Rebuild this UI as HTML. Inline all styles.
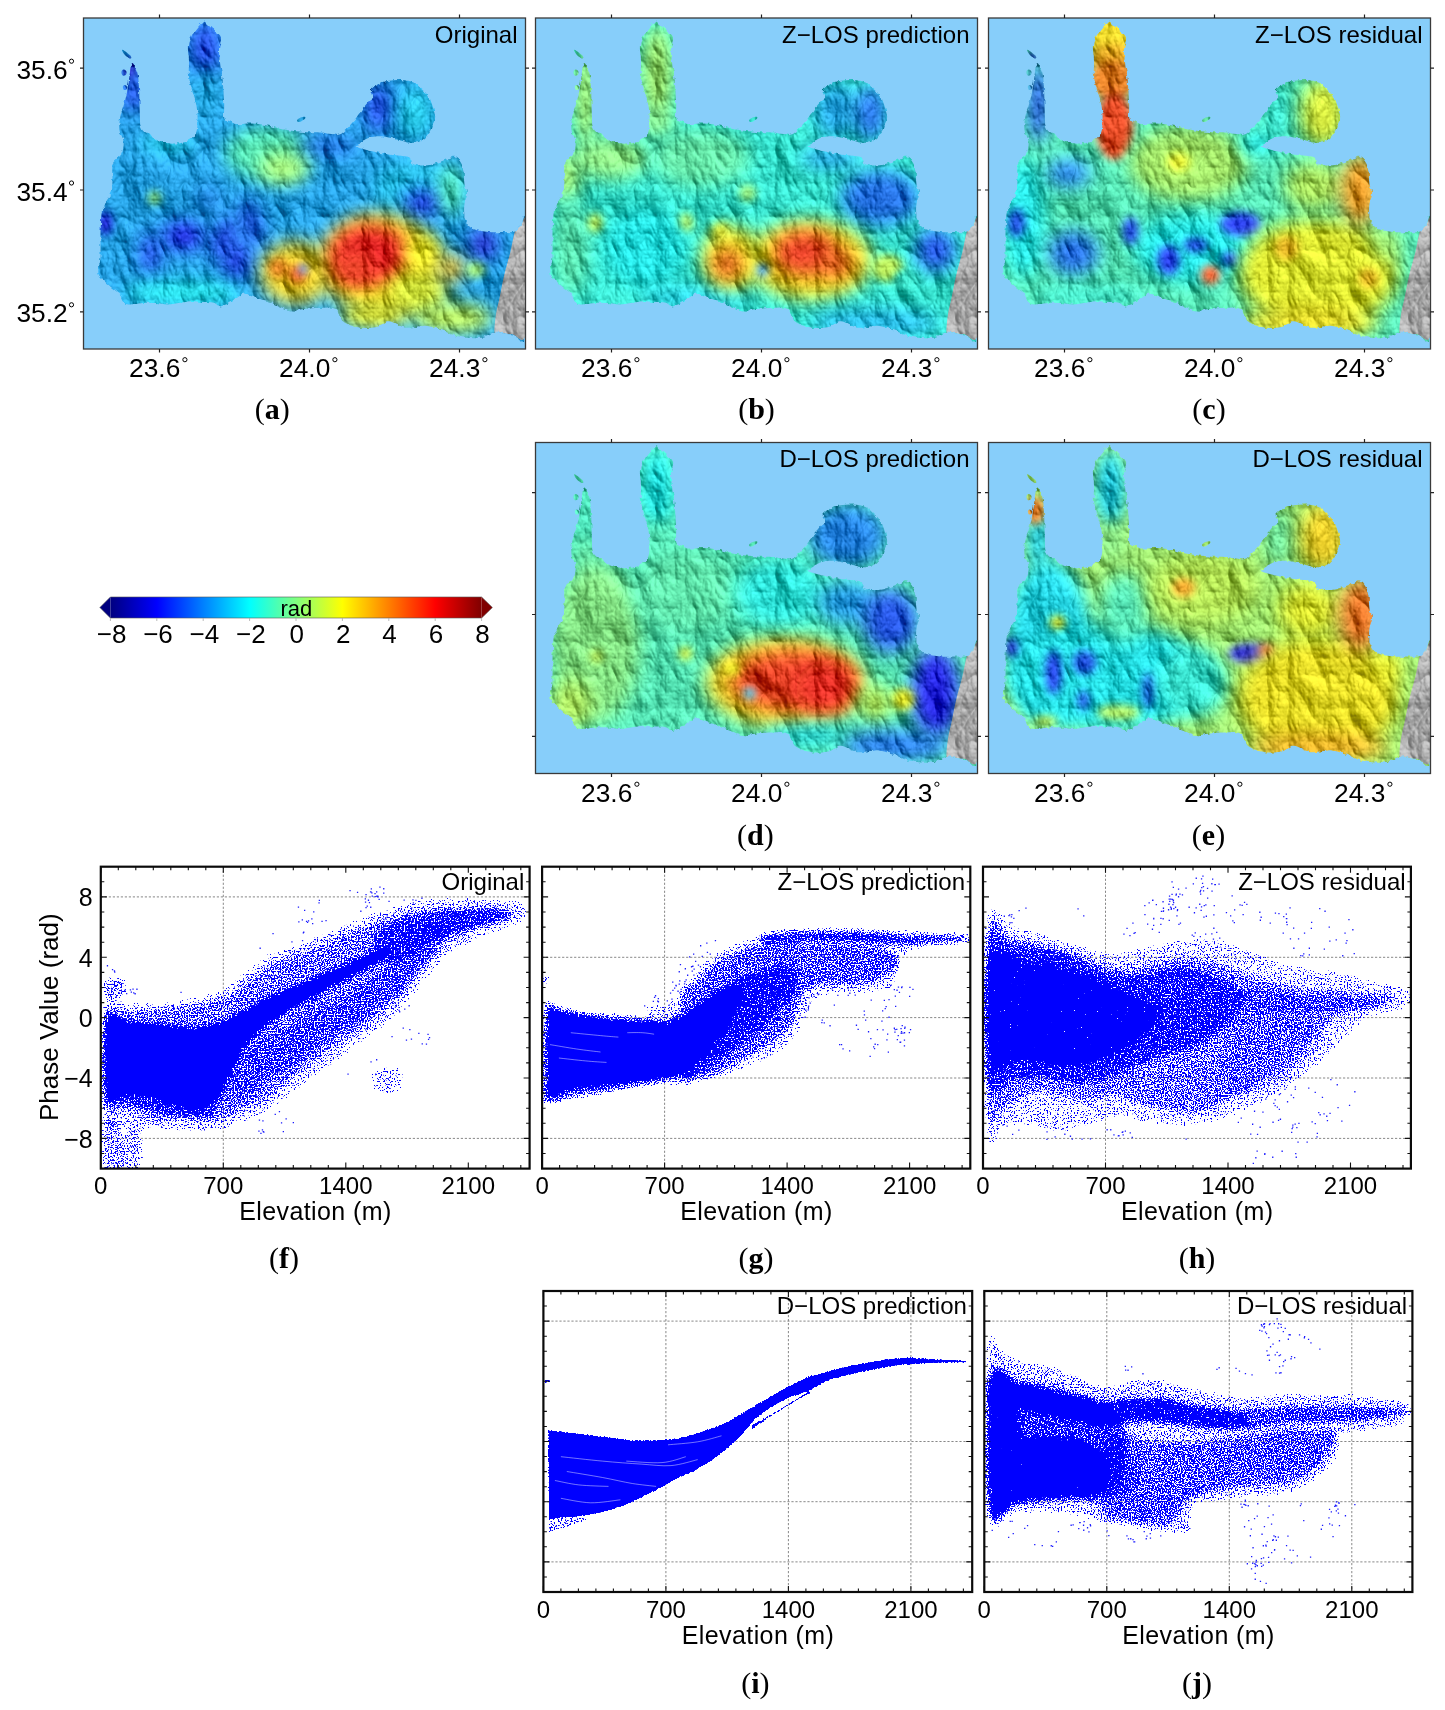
<!DOCTYPE html><html><head><meta charset="utf-8"><style>html,body{margin:0;padding:0;background:#fff;overflow:hidden}svg{display:block}svg text{opacity:.999}</style></head><body><svg width="1445" height="1710" viewBox="0 0 1445 1710"><defs><mask id="landclip" maskUnits="userSpaceOnUse" x="-20" y="-20" width="482" height="371"><path d="M49.0 45.0C50.1 45.2 51.4 48.4 52.5 51.0C53.6 53.6 53.9 54.2 54.5 58.0C55.1 61.8 55.2 64.7 55.5 70.0C55.8 75.3 55.8 78.5 56.0 84.5C56.2 90.5 56.3 95.4 56.5 100.0C56.7 104.6 56.2 104.7 57.0 107.5C57.8 110.3 58.9 112.4 60.7 114.0C62.5 115.6 64.0 114.1 66.0 115.5C68.0 116.9 67.9 119.2 70.7 121.0C73.5 122.8 75.7 123.6 80.0 124.5C84.3 125.4 87.1 125.9 92.0 125.5C96.9 125.1 100.5 124.4 104.5 122.5C108.5 120.6 110.1 119.7 112.0 116.0C113.9 112.3 113.8 109.6 114.0 104.0C114.2 98.4 114.1 94.4 113.0 88.0C111.9 81.6 110.0 78.0 108.5 72.0C107.0 66.0 106.1 64.0 105.5 58.0C104.9 52.0 105.7 48.0 105.5 42.0C105.3 36.0 104.0 32.8 104.5 28.0C105.0 23.2 106.3 21.4 108.0 18.0C109.7 14.6 110.6 13.8 113.0 11.0C115.4 8.2 117.6 4.9 119.8 4.0C122.0 3.1 121.8 4.7 124.0 6.5C126.2 8.3 128.3 10.4 131.0 13.0C133.7 15.6 136.6 16.0 137.5 19.5C138.4 23.0 135.7 25.2 135.5 30.5C135.3 35.8 136.0 39.8 136.7 46.0C137.4 52.2 138.2 53.8 139.0 61.5C139.8 69.2 140.2 76.6 140.6 84.5C141.0 92.4 139.9 97.3 141.0 101.0C142.1 104.7 143.5 102.0 146.0 103.0C148.5 104.0 149.0 105.5 153.6 106.0C158.2 106.5 162.8 105.2 169.0 105.5C175.2 105.8 178.3 106.3 184.4 107.5C190.5 108.7 192.4 110.2 199.7 111.5C207.0 112.8 213.7 113.4 221.0 114.0C228.3 114.6 231.0 114.1 236.4 114.5C241.8 114.9 244.1 115.6 248.0 116.0C251.9 116.4 253.0 117.5 256.0 116.5C259.0 115.5 260.0 113.9 263.0 111.0C266.0 108.1 268.0 105.6 271.0 102.0C274.0 98.4 275.0 96.5 277.8 93.0C280.6 89.5 282.8 87.1 285.0 84.5C287.2 81.9 288.5 82.5 289.0 80.0C289.5 77.5 286.3 74.8 287.5 72.0C288.7 69.2 291.7 67.8 295.0 66.0C298.3 64.2 299.1 63.8 304.0 63.0C308.9 62.2 314.1 61.9 319.3 62.2C324.5 62.5 326.3 62.8 330.0 64.5C333.7 66.2 335.0 68.2 337.8 70.7C340.6 73.2 342.0 74.1 344.0 77.0C346.0 79.9 346.5 80.7 348.0 85.0C349.5 89.3 351.5 93.7 351.6 98.3C351.7 102.9 349.8 104.6 348.5 108.0C347.2 111.4 347.1 112.6 345.0 115.5C342.9 118.4 341.3 120.7 338.0 122.5C334.7 124.3 333.5 124.9 328.5 124.7C323.5 124.5 319.3 122.7 313.2 121.4C307.1 120.1 303.3 118.6 297.8 118.3C292.3 118.0 289.9 118.4 285.5 119.8C281.1 121.2 278.7 123.9 276.0 125.5C273.3 127.1 271.3 126.9 272.0 128.0C272.7 129.1 275.4 129.8 279.4 131.0C283.4 132.2 286.8 132.9 292.0 134.0C297.2 135.1 300.3 135.7 305.5 136.5C310.7 137.3 313.9 137.4 318.0 138.0C322.1 138.6 323.9 138.0 326.0 139.5C328.1 141.0 325.5 143.9 328.5 145.5C331.5 147.1 335.6 147.7 340.8 147.5C346.0 147.3 350.1 145.7 354.7 144.4C359.3 143.1 360.6 142.1 364.0 141.0C367.4 139.9 369.0 138.4 371.6 139.0C374.2 139.6 375.4 141.4 377.0 144.0C378.6 146.6 379.0 147.6 379.8 152.0C380.6 156.4 380.3 161.4 381.0 166.0C381.7 170.6 383.5 171.0 383.5 175.0C383.5 179.0 381.5 181.8 381.0 186.0C380.5 190.2 380.5 192.5 380.8 196.0C381.1 199.5 380.5 200.4 382.3 203.4C384.1 206.4 385.4 208.9 390.0 211.0C394.6 213.1 399.4 213.4 405.4 214.0C411.4 214.6 414.8 214.1 420.0 214.0C425.2 213.9 428.1 214.7 431.5 213.5C434.9 212.3 434.7 209.3 437.0 208.0C439.3 206.7 441.8 186.0 443.0 207.0C444.2 228.0 445.9 291.1 443.0 313.0C440.1 334.9 434.1 316.1 428.4 316.3C422.7 316.5 418.1 314.5 414.6 314.0C411.1 313.5 413.3 313.3 411.0 314.0C408.7 314.7 406.6 316.3 403.0 317.5C399.4 318.7 398.8 320.0 393.1 320.2C387.4 320.4 381.4 320.1 374.6 318.6C367.8 317.1 365.4 314.6 359.3 312.5C353.2 310.4 349.4 308.7 343.9 308.0C338.4 307.3 336.6 308.7 332.0 309.0C327.4 309.3 326.2 310.5 320.9 309.4C315.6 308.3 310.1 303.8 305.5 303.3C300.9 302.8 301.1 305.8 298.0 307.0C294.9 308.2 294.7 308.9 290.1 309.4C285.5 309.9 280.9 310.6 274.8 309.4C268.7 308.2 264.0 307.0 259.4 303.3C254.8 299.6 256.4 293.7 251.7 291.0C247.0 288.3 242.1 290.0 236.0 290.0C229.9 290.0 226.7 290.5 221.0 291.0C215.3 291.5 212.6 293.1 207.4 292.5C202.2 291.9 199.6 289.8 195.0 288.0C190.4 286.2 189.6 285.2 184.4 283.3C179.2 281.4 173.6 280.2 169.0 278.7C164.4 277.2 164.4 275.6 161.3 275.6C158.2 275.6 156.7 276.9 153.6 278.7C150.5 280.5 149.7 282.8 146.0 284.8C142.3 286.8 138.3 288.5 135.2 288.5C132.1 288.5 134.0 285.7 130.6 284.8C127.2 283.9 122.6 284.3 118.0 284.0C113.4 283.7 112.1 283.1 107.5 283.3C102.9 283.5 99.6 284.4 95.0 285.0C90.4 285.6 89.1 286.4 84.5 286.4C79.9 286.4 76.6 285.3 72.0 285.0C67.4 284.7 66.9 284.5 61.5 284.8C56.1 285.1 49.3 286.9 45.0 286.5C40.7 286.1 41.6 284.9 40.0 283.0C38.4 281.1 39.0 279.4 37.0 277.0C35.0 274.6 32.6 273.2 30.0 271.0C27.4 268.8 26.8 268.6 24.0 266.0C21.2 263.4 17.8 261.0 16.0 258.0C14.2 255.0 14.9 253.8 15.0 251.0C15.1 248.2 16.1 246.6 16.5 244.0C16.9 241.4 16.9 241.6 17.0 238.0C17.1 234.4 17.0 230.8 17.0 226.0C17.0 221.2 16.9 218.2 17.0 214.0C17.1 209.8 17.3 208.6 17.5 205.0C17.7 201.4 17.4 199.2 18.0 196.0C18.6 192.8 19.5 191.6 20.5 189.0C21.5 186.4 21.7 185.4 23.0 183.0C24.3 180.6 25.9 179.4 27.0 177.0C28.1 174.6 28.1 174.4 28.5 171.0C28.9 167.6 28.9 164.8 29.0 160.0C29.1 155.2 28.2 150.8 29.0 147.0C29.8 143.2 31.1 143.4 33.0 141.0C34.9 138.6 37.0 138.6 38.4 135.0C39.8 131.4 40.5 127.6 40.0 123.0C39.5 118.4 36.6 116.9 36.0 112.0C35.4 107.1 36.1 103.1 36.9 98.3C37.7 93.5 38.8 92.3 40.0 88.0C41.2 83.7 42.1 80.8 43.0 76.8C43.9 72.8 43.9 71.7 44.5 68.0C45.1 64.3 45.6 62.0 46.1 58.4C46.6 54.8 46.4 52.7 47.0 50.0C47.6 47.3 47.9 44.8 49.0 45.0Z" fill="#fff" filter="url(#rough)"/><path d="M38.5 32.0C38.8 31.2 40.3 32.4 42.0 33.5C43.7 34.6 43.5 34.7 45.0 36.0C46.5 37.3 47.0 37.3 47.5 38.5C48.0 39.7 47.9 40.4 47.0 40.5C46.1 40.6 45.6 40.1 44.0 39.0C42.4 37.9 42.5 38.4 41.0 36.5C39.5 34.6 38.2 32.8 38.5 32.0ZM38.5 52.5C39.3 51.3 40.3 51.3 41.5 52.0C42.7 52.7 43.1 53.5 43.0 55.0C42.9 56.5 42.2 57.1 41.0 57.5C39.8 57.9 39.2 57.8 38.5 56.5C37.8 55.2 37.7 53.7 38.5 52.5ZM40.0 67.5C40.8 66.8 41.6 66.7 42.5 67.5C43.4 68.3 43.9 69.3 43.5 70.5C43.1 71.7 42.1 72.1 41.0 72.0C39.9 71.9 39.8 71.2 39.5 70.0C39.2 68.8 39.2 68.2 40.0 67.5ZM214.0 101.5C215.1 100.2 216.9 99.5 219.0 99.0C221.1 98.5 222.0 98.6 222.0 99.5C222.0 100.4 220.9 101.3 219.0 102.5C217.1 103.7 216.3 104.3 215.0 104.0C213.7 103.7 212.9 102.8 214.0 101.5Z" fill="#fff"/></mask><clipPath id="mapclip"><rect x="0" y="0" width="442" height="331"/></clipPath><filter id="mblur" filterUnits="userSpaceOnUse" x="-100" y="-100" width="650" height="550"><feGaussianBlur stdDeviation="9"/></filter><filter id="mblur2" filterUnits="userSpaceOnUse" x="-100" y="-100" width="650" height="550"><feGaussianBlur stdDeviation="4"/></filter><filter id="hill" filterUnits="userSpaceOnUse" x="0" y="0" width="442" height="331" color-interpolation-filters="sRGB">
<feTurbulence type="turbulence" baseFrequency="0.025 0.015" numOctaves="5" seed="11" result="t"/>
<feDiffuseLighting in="t" surfaceScale="8" diffuseConstant="1" lighting-color="#fff" result="lit"><feDistantLight azimuth="300" elevation="45"/></feDiffuseLighting>
<feComposite in="SourceGraphic" in2="lit" operator="arithmetic" k1="0.2" k2="0.6" k3="0.35" k4="-0.1"/>
</filter>
<filter id="rough" filterUnits="userSpaceOnUse" x="-20" y="-20" width="482" height="371">
<feTurbulence type="fractalNoise" baseFrequency="0.22" numOctaves="2" seed="4" result="rt"/>
<feDisplacementMap in="SourceGraphic" in2="rt" scale="4" xChannelSelector="R" yChannelSelector="G"/>
</filter><clipPath id="pcf"><rect x="100.8" y="866.7" width="428.8" height="301.9"/></clipPath><clipPath id="pcg"><rect x="542.1" y="866.7" width="428.2" height="301.9"/></clipPath><clipPath id="pch"><rect x="983.0" y="866.7" width="427.9" height="301.9"/></clipPath><clipPath id="pci"><rect x="543.4" y="1291.0" width="428.8" height="301.0"/></clipPath><clipPath id="pcj"><rect x="984.3" y="1291.0" width="428.1" height="301.0"/></clipPath><filter id="stf" filterUnits="userSpaceOnUse" x="100.8" y="866.7" width="428.8" height="301.9" color-interpolation-filters="sRGB"><feGaussianBlur in="SourceAlpha" stdDeviation="2.0" result="b"/><feComponentTransfer in="b" result="m"><feFuncA type="table" tableValues="0.000 0.341 0.378 0.402 0.430 0.448 0.465 0.479 0.492 0.509 0.519 0.529 0.542 0.558 0.573 0.586 0.606 0.624 0.653 0.690 1.000"/></feComponentTransfer><feTurbulence type="fractalNoise" baseFrequency="0.7" numOctaves="1" seed="102" result="n"/><feColorMatrix in="n" type="matrix" values="0 0 0 0 0 0 0 0 0 0 0 0 0 0 0 1 0 0 0 0" result="na"/><feComposite in="m" in2="na" operator="arithmetic" k1="0" k2="1" k3="-1" k4="0" result="d"/><feComponentTransfer in="d" result="th"><feFuncA type="linear" slope="30" intercept="0"/></feComponentTransfer><feFlood flood-color="#0000ff"/><feComposite in2="th" operator="in"/><feGaussianBlur stdDeviation="0.4"/></filter><filter id="stg" filterUnits="userSpaceOnUse" x="542.1" y="866.7" width="428.2" height="301.9" color-interpolation-filters="sRGB"><feGaussianBlur in="SourceAlpha" stdDeviation="2.0" result="b"/><feComponentTransfer in="b" result="m"><feFuncA type="table" tableValues="0.000 0.341 0.378 0.402 0.430 0.448 0.465 0.479 0.492 0.509 0.519 0.529 0.542 0.558 0.573 0.586 0.606 0.624 0.653 0.690 1.000"/></feComponentTransfer><feTurbulence type="fractalNoise" baseFrequency="0.7" numOctaves="1" seed="103" result="n"/><feColorMatrix in="n" type="matrix" values="0 0 0 0 0 0 0 0 0 0 0 0 0 0 0 1 0 0 0 0" result="na"/><feComposite in="m" in2="na" operator="arithmetic" k1="0" k2="1" k3="-1" k4="0" result="d"/><feComponentTransfer in="d" result="th"><feFuncA type="linear" slope="30" intercept="0"/></feComponentTransfer><feFlood flood-color="#0000ff"/><feComposite in2="th" operator="in"/><feGaussianBlur stdDeviation="0.4"/></filter><filter id="sth" filterUnits="userSpaceOnUse" x="983.0" y="866.7" width="427.9" height="301.9" color-interpolation-filters="sRGB"><feGaussianBlur in="SourceAlpha" stdDeviation="2.0" result="b"/><feComponentTransfer in="b" result="m"><feFuncA type="table" tableValues="0.000 0.341 0.378 0.402 0.430 0.448 0.465 0.479 0.492 0.509 0.519 0.529 0.542 0.558 0.573 0.586 0.606 0.624 0.653 0.690 1.000"/></feComponentTransfer><feTurbulence type="fractalNoise" baseFrequency="0.7" numOctaves="1" seed="104" result="n"/><feColorMatrix in="n" type="matrix" values="0 0 0 0 0 0 0 0 0 0 0 0 0 0 0 1 0 0 0 0" result="na"/><feComposite in="m" in2="na" operator="arithmetic" k1="0" k2="1" k3="-1" k4="0" result="d"/><feComponentTransfer in="d" result="th"><feFuncA type="linear" slope="30" intercept="0"/></feComponentTransfer><feFlood flood-color="#0000ff"/><feComposite in2="th" operator="in"/><feGaussianBlur stdDeviation="0.4"/></filter><filter id="sti" filterUnits="userSpaceOnUse" x="543.4" y="1291.0" width="428.8" height="301.0" color-interpolation-filters="sRGB"><feGaussianBlur in="SourceAlpha" stdDeviation="0.6" result="b"/><feComponentTransfer in="b" result="m"><feFuncA type="table" tableValues="0.000 0.341 0.378 0.402 0.430 0.448 0.465 0.479 0.492 0.509 0.519 0.529 0.542 0.558 0.573 0.586 0.606 0.624 0.653 0.690 1.000"/></feComponentTransfer><feTurbulence type="fractalNoise" baseFrequency="0.7" numOctaves="1" seed="105" result="n"/><feColorMatrix in="n" type="matrix" values="0 0 0 0 0 0 0 0 0 0 0 0 0 0 0 1 0 0 0 0" result="na"/><feComposite in="m" in2="na" operator="arithmetic" k1="0" k2="1" k3="-1" k4="0" result="d"/><feComponentTransfer in="d" result="th"><feFuncA type="linear" slope="30" intercept="0"/></feComponentTransfer><feFlood flood-color="#0000ff"/><feComposite in2="th" operator="in"/><feGaussianBlur stdDeviation="0.4"/></filter><filter id="stj" filterUnits="userSpaceOnUse" x="984.3" y="1291.0" width="428.1" height="301.0" color-interpolation-filters="sRGB"><feGaussianBlur in="SourceAlpha" stdDeviation="2.0" result="b"/><feComponentTransfer in="b" result="m"><feFuncA type="table" tableValues="0.000 0.341 0.378 0.402 0.430 0.448 0.465 0.479 0.492 0.509 0.519 0.529 0.542 0.558 0.573 0.586 0.606 0.624 0.653 0.690 1.000"/></feComponentTransfer><feTurbulence type="fractalNoise" baseFrequency="0.7" numOctaves="1" seed="106" result="n"/><feColorMatrix in="n" type="matrix" values="0 0 0 0 0 0 0 0 0 0 0 0 0 0 0 1 0 0 0 0" result="na"/><feComposite in="m" in2="na" operator="arithmetic" k1="0" k2="1" k3="-1" k4="0" result="d"/><feComponentTransfer in="d" result="th"><feFuncA type="linear" slope="30" intercept="0"/></feComponentTransfer><feFlood flood-color="#0000ff"/><feComposite in2="th" operator="in"/><feGaussianBlur stdDeviation="0.4"/></filter><linearGradient id="jetg" x1="0" x2="1" y1="0" y2="0"><stop offset="0.000" stop-color="#000080"/><stop offset="0.031" stop-color="#00009f"/><stop offset="0.062" stop-color="#0000bf"/><stop offset="0.094" stop-color="#0000df"/><stop offset="0.125" stop-color="#0000ff"/><stop offset="0.156" stop-color="#0020ff"/><stop offset="0.188" stop-color="#0040ff"/><stop offset="0.219" stop-color="#0060ff"/><stop offset="0.250" stop-color="#0080ff"/><stop offset="0.281" stop-color="#009fff"/><stop offset="0.312" stop-color="#00bfff"/><stop offset="0.344" stop-color="#00dfff"/><stop offset="0.375" stop-color="#00ffff"/><stop offset="0.406" stop-color="#20ffdf"/><stop offset="0.438" stop-color="#40ffbf"/><stop offset="0.469" stop-color="#60ff9f"/><stop offset="0.500" stop-color="#80ff80"/><stop offset="0.531" stop-color="#9fff60"/><stop offset="0.562" stop-color="#bfff40"/><stop offset="0.594" stop-color="#dfff20"/><stop offset="0.625" stop-color="#ffff00"/><stop offset="0.656" stop-color="#ffdf00"/><stop offset="0.688" stop-color="#ffbf00"/><stop offset="0.719" stop-color="#ff9f00"/><stop offset="0.750" stop-color="#ff8000"/><stop offset="0.781" stop-color="#ff6000"/><stop offset="0.812" stop-color="#ff4000"/><stop offset="0.844" stop-color="#ff2000"/><stop offset="0.875" stop-color="#ff0000"/><stop offset="0.906" stop-color="#df0000"/><stop offset="0.938" stop-color="#bf0000"/><stop offset="0.969" stop-color="#9f0000"/><stop offset="1.000" stop-color="#800000"/></linearGradient></defs><rect width="1445" height="1710" fill="#fff"/><g transform="translate(83.5 18.0)"><rect x="0" y="0" width="442" height="331" fill="#87cefa"/><g mask="url(#landclip)"><g filter="url(#hill)"><rect x="0" y="0" width="442" height="331" fill="#00a6ff"/><ellipse cx="46" cy="50" rx="8" ry="12" fill="#0000bf" filter="url(#mblur2)"/><ellipse cx="50" cy="75" rx="10" ry="22" fill="#0020ff" filter="url(#mblur)"/><ellipse cx="48" cy="110" rx="12" ry="15" fill="#009fff" filter="url(#mblur)"/><ellipse cx="122" cy="30" rx="16" ry="28" fill="#0033ff" filter="url(#mblur)"/><ellipse cx="122" cy="78" rx="16" ry="25" fill="#00b2ff" filter="url(#mblur)"/><ellipse cx="85" cy="125" rx="28" ry="10" fill="#00dfff" filter="url(#mblur)"/><ellipse cx="185" cy="135" rx="45" ry="28" fill="#40ffbf" filter="url(#mblur)"/><ellipse cx="200" cy="150" rx="25" ry="16" fill="#9fff60" filter="url(#mblur)"/><ellipse cx="245" cy="128" rx="30" ry="10" fill="#0066ff" filter="url(#mblur)"/><ellipse cx="295" cy="90" rx="14" ry="24" fill="#0033ff" filter="url(#mblur)"/><ellipse cx="332" cy="95" rx="18" ry="26" fill="#00d9ff" filter="url(#mblur)"/><ellipse cx="330" cy="170" rx="40" ry="28" fill="#00ccff" filter="url(#mblur)"/><ellipse cx="340" cy="185" rx="20" ry="13" fill="#001aff" filter="url(#mblur)"/><ellipse cx="368" cy="172" rx="12" ry="28" fill="#40ffbf" filter="url(#mblur)"/><ellipse cx="400" cy="226" rx="14" ry="16" fill="#0000d9" filter="url(#mblur)"/><ellipse cx="22" cy="205" rx="7" ry="12" fill="#0000f2" filter="url(#mblur2)"/><ellipse cx="100" cy="218" rx="20" ry="14" fill="#0000ff" filter="url(#mblur)"/><ellipse cx="67" cy="235" rx="9" ry="20" fill="#001aff" filter="url(#mblur)"/><ellipse cx="153" cy="243" rx="14" ry="20" fill="#0026ff" filter="url(#mblur)"/><ellipse cx="71" cy="180" rx="7" ry="7" fill="#8cff73" filter="url(#mblur2)"/><ellipse cx="140" cy="220" rx="10" ry="22" fill="#001aff" transform="rotate(20 140 220)" filter="url(#mblur)"/><ellipse cx="168" cy="205" rx="8" ry="24" fill="#0020ff" transform="rotate(-15 168 205)" filter="url(#mblur)"/><ellipse cx="125" cy="182" rx="14" ry="14" fill="#0080ff" filter="url(#mblur)"/><ellipse cx="100" cy="275" rx="60" ry="12" fill="#00ffff" filter="url(#mblur)"/><ellipse cx="212" cy="255" rx="36" ry="32" fill="#ffd900" filter="url(#mblur)"/><ellipse cx="195" cy="250" rx="10" ry="10" fill="#ff8000" filter="url(#mblur2)"/><ellipse cx="214" cy="256" rx="9" ry="9" fill="#ff4c00" filter="url(#mblur2)"/><ellipse cx="220" cy="251" rx="5" ry="5" fill="#0060ff" filter="url(#mblur2)"/><ellipse cx="295" cy="245" rx="60" ry="50" fill="#ffe500" filter="url(#mblur)"/><ellipse cx="286" cy="236" rx="40" ry="30" fill="#ff0600" filter="url(#mblur)"/><ellipse cx="270" cy="250" rx="20" ry="18" fill="#ff2000" filter="url(#mblur)"/><ellipse cx="335" cy="275" rx="30" ry="22" fill="#e5ff1a" filter="url(#mblur)"/><ellipse cx="340" cy="235" rx="18" ry="18" fill="#ffff00" filter="url(#mblur)"/><ellipse cx="368" cy="250" rx="14" ry="14" fill="#ffbf00" filter="url(#mblur)"/><ellipse cx="392" cy="252" rx="10" ry="8" fill="#9fff60" filter="url(#mblur2)"/><ellipse cx="370" cy="300" rx="40" ry="16" fill="#bfff40" filter="url(#mblur)"/><ellipse cx="290" cy="298" rx="35" ry="12" fill="#ffff00" filter="url(#mblur)"/><path d="M431.5 213.5C433.2 209.2 435.1 209.1 437.0 208.0C438.9 206.9 442.0 189.5 443.0 207.0C444.0 224.5 445.4 294.8 443.0 313.0C440.6 331.2 433.1 316.1 428.4 316.3C423.7 316.5 417.5 314.4 414.6 314.0C411.7 313.6 411.4 317.0 411.0 314.0C410.6 311.0 411.7 301.7 412.5 296.0C413.3 290.3 414.6 286.5 416.0 280.0C417.4 273.5 418.9 264.7 420.7 257.0C422.5 249.3 425.1 241.2 426.9 234.0C428.7 226.8 429.8 217.8 431.5 213.5Z" fill="#b8b8b8"/></g></g><rect x="0" y="0" width="442" height="331" fill="none" stroke="#3a3a3a" stroke-width="1.3"/><path d="M-3.5 50.2H0M442 50.2H445.5M-3.5 172.0H0M442 172.0H445.5M-3.5 293.8H0M442 293.8H445.5M76 -3.5V0M76 331V334.5M226 -3.5V0M226 331V334.5M376 -3.5V0M376 331V334.5" stroke="#222" stroke-width="1.2" fill="none"/><text x="434" y="24.6" text-anchor="end" style="font-family:'Liberation Sans',sans-serif;font-size:24px">Original</text><text x="45.6" y="359.3" style="font-family:'Liberation Sans',sans-serif;font-size:26.3px">23.6</text><circle cx="101.4" cy="341.7" r="2.1" fill="none" stroke="#000" stroke-width="1"/><text x="195.6" y="359.3" style="font-family:'Liberation Sans',sans-serif;font-size:26.3px">24.0</text><circle cx="251.4" cy="341.7" r="2.1" fill="none" stroke="#000" stroke-width="1"/><text x="345.6" y="359.3" style="font-family:'Liberation Sans',sans-serif;font-size:26.3px">24.3</text><circle cx="401.4" cy="341.7" r="2.1" fill="none" stroke="#000" stroke-width="1"/><text x="-15.9" y="60.8" text-anchor="end" style="font-family:'Liberation Sans',sans-serif;font-size:26.3px">35.6</text><circle cx="-12.0" cy="43.2" r="2.1" fill="none" stroke="#000" stroke-width="1"/><text x="-15.9" y="182.6" text-anchor="end" style="font-family:'Liberation Sans',sans-serif;font-size:26.3px">35.4</text><circle cx="-12.0" cy="165.0" r="2.1" fill="none" stroke="#000" stroke-width="1"/><text x="-15.9" y="304.4" text-anchor="end" style="font-family:'Liberation Sans',sans-serif;font-size:26.3px">35.2</text><circle cx="-12.0" cy="286.8" r="2.1" fill="none" stroke="#000" stroke-width="1"/></g><g transform="translate(535.5 18.0)"><rect x="0" y="0" width="442" height="331" fill="#87cefa"/><g mask="url(#landclip)"><g filter="url(#hill)"><rect x="0" y="0" width="442" height="331" fill="#1affe5"/><ellipse cx="50" cy="80" rx="12" ry="50" fill="#a6ff59" filter="url(#mblur)"/><ellipse cx="122" cy="55" rx="18" ry="50" fill="#9fff60" filter="url(#mblur)"/><ellipse cx="122" cy="105" rx="18" ry="15" fill="#80ff80" filter="url(#mblur)"/><ellipse cx="75" cy="140" rx="40" ry="22" fill="#86ff79" filter="url(#mblur)"/><ellipse cx="30" cy="160" rx="15" ry="25" fill="#9fff60" filter="url(#mblur)"/><ellipse cx="165" cy="140" rx="50" ry="30" fill="#53ffac" filter="url(#mblur)"/><ellipse cx="300" cy="92" rx="22" ry="28" fill="#00acff" filter="url(#mblur)"/><ellipse cx="335" cy="95" rx="16" ry="28" fill="#0060ff" filter="url(#mblur)"/><ellipse cx="295" cy="140" rx="30" ry="10" fill="#009fff" filter="url(#mblur)"/><ellipse cx="345" cy="180" rx="40" ry="28" fill="#0066ff" filter="url(#mblur)"/><ellipse cx="400" cy="232" rx="20" ry="22" fill="#0040ff" filter="url(#mblur)"/><ellipse cx="35" cy="230" rx="20" ry="50" fill="#46ffb9" filter="url(#mblur)"/><ellipse cx="60" cy="205" rx="8" ry="10" fill="#bfff40" filter="url(#mblur2)"/><ellipse cx="150" cy="205" rx="8" ry="10" fill="#bfff40" filter="url(#mblur2)"/><ellipse cx="185" cy="213" rx="9" ry="9" fill="#ccff33" filter="url(#mblur2)"/><ellipse cx="212" cy="175" rx="9" ry="9" fill="#93ff6c" filter="url(#mblur2)"/><ellipse cx="110" cy="230" rx="40" ry="40" fill="#00ffff" filter="url(#mblur)"/><ellipse cx="160" cy="280" rx="55" ry="10" fill="#00dfff" filter="url(#mblur)"/><ellipse cx="275" cy="242" rx="62" ry="40" fill="#ffe500" filter="url(#mblur)"/><ellipse cx="270" cy="235" rx="32" ry="22" fill="#ff2000" filter="url(#mblur)"/><ellipse cx="300" cy="245" rx="18" ry="14" fill="#ff4c00" filter="url(#mblur)"/><ellipse cx="196" cy="240" rx="30" ry="32" fill="#fff200" filter="url(#mblur)"/><ellipse cx="192" cy="246" rx="16" ry="16" fill="#ff5900" filter="url(#mblur)"/><ellipse cx="227" cy="252" rx="6" ry="7" fill="#0080ff" filter="url(#mblur2)"/><ellipse cx="352" cy="250" rx="16" ry="14" fill="#bfff40" filter="url(#mblur2)"/><ellipse cx="370" cy="262" rx="12" ry="10" fill="#20ffdf" filter="url(#mblur2)"/><ellipse cx="340" cy="305" rx="65" ry="14" fill="#00bfff" filter="url(#mblur)"/><path d="M431.5 213.5C433.2 209.2 435.1 209.1 437.0 208.0C438.9 206.9 442.0 189.5 443.0 207.0C444.0 224.5 445.4 294.8 443.0 313.0C440.6 331.2 433.1 316.1 428.4 316.3C423.7 316.5 417.5 314.4 414.6 314.0C411.7 313.6 411.4 317.0 411.0 314.0C410.6 311.0 411.7 301.7 412.5 296.0C413.3 290.3 414.6 286.5 416.0 280.0C417.4 273.5 418.9 264.7 420.7 257.0C422.5 249.3 425.1 241.2 426.9 234.0C428.7 226.8 429.8 217.8 431.5 213.5Z" fill="#b8b8b8"/></g></g><rect x="0" y="0" width="442" height="331" fill="none" stroke="#3a3a3a" stroke-width="1.3"/><path d="M-3.5 50.2H0M442 50.2H445.5M-3.5 172.0H0M442 172.0H445.5M-3.5 293.8H0M442 293.8H445.5M76 -3.5V0M76 331V334.5M226 -3.5V0M226 331V334.5M376 -3.5V0M376 331V334.5" stroke="#222" stroke-width="1.2" fill="none"/><text x="434" y="24.6" text-anchor="end" style="font-family:'Liberation Sans',sans-serif;font-size:24px">Z−LOS prediction</text><text x="45.6" y="359.3" style="font-family:'Liberation Sans',sans-serif;font-size:26.3px">23.6</text><circle cx="101.4" cy="341.7" r="2.1" fill="none" stroke="#000" stroke-width="1"/><text x="195.6" y="359.3" style="font-family:'Liberation Sans',sans-serif;font-size:26.3px">24.0</text><circle cx="251.4" cy="341.7" r="2.1" fill="none" stroke="#000" stroke-width="1"/><text x="345.6" y="359.3" style="font-family:'Liberation Sans',sans-serif;font-size:26.3px">24.3</text><circle cx="401.4" cy="341.7" r="2.1" fill="none" stroke="#000" stroke-width="1"/></g><g transform="translate(988.5 18.0)"><rect x="0" y="0" width="442" height="331" fill="#87cefa"/><g mask="url(#landclip)"><g filter="url(#hill)"><rect x="0" y="0" width="442" height="331" fill="#40ffbf"/><ellipse cx="50" cy="85" rx="10" ry="40" fill="#0033ff" filter="url(#mblur)"/><ellipse cx="44" cy="40" rx="6" ry="6" fill="#0000df" filter="url(#mblur2)"/><ellipse cx="124" cy="18" rx="26" ry="24" fill="#ffe500" filter="url(#mblur2)"/><ellipse cx="124" cy="40" rx="24" ry="14" fill="#ffb300" filter="url(#mblur2)"/><ellipse cx="124" cy="62" rx="24" ry="20" fill="#ff7900" filter="url(#mblur2)"/><ellipse cx="126" cy="108" rx="19" ry="34" fill="#ff3300" filter="url(#mblur2)"/><ellipse cx="35" cy="200" rx="22" ry="60" fill="#00ffff" filter="url(#mblur)"/><ellipse cx="28" cy="205" rx="9" ry="14" fill="#0040ff" filter="url(#mblur2)"/><ellipse cx="80" cy="155" rx="22" ry="14" fill="#0073ff" filter="url(#mblur)"/><ellipse cx="85" cy="235" rx="25" ry="22" fill="#0060ff" filter="url(#mblur)"/><ellipse cx="100" cy="278" rx="60" ry="10" fill="#20ffdf" filter="url(#mblur)"/><ellipse cx="200" cy="145" rx="60" ry="38" fill="#a6ff59" filter="url(#mblur)"/><ellipse cx="190" cy="144" rx="12" ry="10" fill="#f2ff0d" filter="url(#mblur2)"/><ellipse cx="270" cy="125" rx="20" ry="12" fill="#00ffff" filter="url(#mblur)"/><ellipse cx="205" cy="230" rx="60" ry="35" fill="#00ffff" filter="url(#mblur)"/><ellipse cx="142" cy="213" rx="8" ry="14" fill="#0033ff" filter="url(#mblur2)"/><ellipse cx="180" cy="242" rx="11" ry="15" fill="#001aff" filter="url(#mblur2)"/><ellipse cx="207" cy="227" rx="12" ry="7" fill="#0033ff" filter="url(#mblur2)"/><ellipse cx="252" cy="206" rx="20" ry="12" fill="#001aff" filter="url(#mblur2)"/><ellipse cx="241" cy="241" rx="8" ry="7" fill="#0033ff" filter="url(#mblur2)"/><ellipse cx="222" cy="257" rx="10" ry="10" fill="#ff4000" filter="url(#mblur2)"/><ellipse cx="330" cy="255" rx="80" ry="55" fill="#f2ff0d" filter="url(#mblur)"/><ellipse cx="298" cy="230" rx="12" ry="12" fill="#ffbf00" filter="url(#mblur2)"/><ellipse cx="380" cy="260" rx="10" ry="10" fill="#ffbf00" filter="url(#mblur2)"/><ellipse cx="320" cy="305" rx="70" ry="15" fill="#ffec00" filter="url(#mblur)"/><ellipse cx="290" cy="95" rx="16" ry="30" fill="#1affe5" filter="url(#mblur)"/><ellipse cx="335" cy="95" rx="24" ry="34" fill="#e5ff1a" filter="url(#mblur)"/><ellipse cx="325" cy="168" rx="30" ry="25" fill="#b3ff4c" filter="url(#mblur)"/><ellipse cx="372" cy="172" rx="22" ry="36" fill="#ff9900" filter="url(#mblur)"/><ellipse cx="398" cy="225" rx="14" ry="16" fill="#9fff60" filter="url(#mblur)"/><path d="M431.5 213.5C433.2 209.2 435.1 209.1 437.0 208.0C438.9 206.9 442.0 189.5 443.0 207.0C444.0 224.5 445.4 294.8 443.0 313.0C440.6 331.2 433.1 316.1 428.4 316.3C423.7 316.5 417.5 314.4 414.6 314.0C411.7 313.6 411.4 317.0 411.0 314.0C410.6 311.0 411.7 301.7 412.5 296.0C413.3 290.3 414.6 286.5 416.0 280.0C417.4 273.5 418.9 264.7 420.7 257.0C422.5 249.3 425.1 241.2 426.9 234.0C428.7 226.8 429.8 217.8 431.5 213.5Z" fill="#b8b8b8"/></g></g><rect x="0" y="0" width="442" height="331" fill="none" stroke="#3a3a3a" stroke-width="1.3"/><path d="M-3.5 50.2H0M442 50.2H445.5M-3.5 172.0H0M442 172.0H445.5M-3.5 293.8H0M442 293.8H445.5M76 -3.5V0M76 331V334.5M226 -3.5V0M226 331V334.5M376 -3.5V0M376 331V334.5" stroke="#222" stroke-width="1.2" fill="none"/><text x="434" y="24.6" text-anchor="end" style="font-family:'Liberation Sans',sans-serif;font-size:24px">Z−LOS residual</text><text x="45.6" y="359.3" style="font-family:'Liberation Sans',sans-serif;font-size:26.3px">23.6</text><circle cx="101.4" cy="341.7" r="2.1" fill="none" stroke="#000" stroke-width="1"/><text x="195.6" y="359.3" style="font-family:'Liberation Sans',sans-serif;font-size:26.3px">24.0</text><circle cx="251.4" cy="341.7" r="2.1" fill="none" stroke="#000" stroke-width="1"/><text x="345.6" y="359.3" style="font-family:'Liberation Sans',sans-serif;font-size:26.3px">24.3</text><circle cx="401.4" cy="341.7" r="2.1" fill="none" stroke="#000" stroke-width="1"/></g><g transform="translate(535.5 442.5)"><rect x="0" y="0" width="442" height="331" fill="#87cefa"/><g mask="url(#landclip)"><g filter="url(#hill)"><rect x="0" y="0" width="442" height="331" fill="#40ffbf"/><ellipse cx="50" cy="80" rx="10" ry="40" fill="#33ffcc" filter="url(#mblur)"/><ellipse cx="50" cy="110" rx="10" ry="12" fill="#60ff9f" filter="url(#mblur)"/><ellipse cx="122" cy="45" rx="18" ry="40" fill="#00ffff" filter="url(#mblur)"/><ellipse cx="122" cy="100" rx="18" ry="18" fill="#40ffbf" filter="url(#mblur)"/><ellipse cx="60" cy="200" rx="45" ry="80" fill="#80ff80" filter="url(#mblur)"/><ellipse cx="35" cy="262" rx="22" ry="25" fill="#b3ff4c" filter="url(#mblur)"/><ellipse cx="150" cy="150" rx="50" ry="40" fill="#4dffb2" filter="url(#mblur)"/><ellipse cx="245" cy="150" rx="45" ry="35" fill="#0dfff2" filter="url(#mblur)"/><ellipse cx="312" cy="93" rx="40" ry="32" fill="#0080ff" filter="url(#mblur)"/><ellipse cx="312" cy="160" rx="30" ry="22" fill="#009fff" filter="url(#mblur)"/><ellipse cx="355" cy="178" rx="28" ry="32" fill="#0040ff" filter="url(#mblur)"/><ellipse cx="400" cy="250" rx="24" ry="45" fill="#0000ff" filter="url(#mblur)"/><ellipse cx="150" cy="211" rx="7" ry="7" fill="#dfff20" filter="url(#mblur2)"/><ellipse cx="61" cy="214" rx="7" ry="7" fill="#bfff40" filter="url(#mblur2)"/><ellipse cx="250" cy="240" rx="80" ry="45" fill="#ffd900" filter="url(#mblur)"/><ellipse cx="258" cy="238" rx="62" ry="30" fill="#ff2600" filter="url(#mblur)"/><ellipse cx="290" cy="245" rx="30" ry="25" fill="#ff0d00" filter="url(#mblur)"/><ellipse cx="196" cy="226" rx="9" ry="8" fill="#ffff00" filter="url(#mblur2)"/><ellipse cx="214" cy="251" rx="6" ry="6" fill="#00bfff" filter="url(#mblur2)"/><ellipse cx="367" cy="257" rx="12" ry="11" fill="#ffff00" filter="url(#mblur2)"/><ellipse cx="340" cy="260" rx="18" ry="18" fill="#bfff40" filter="url(#mblur)"/><ellipse cx="360" cy="303" rx="55" ry="16" fill="#006cff" filter="url(#mblur)"/><ellipse cx="270" cy="292" rx="40" ry="10" fill="#00f2ff" filter="url(#mblur)"/><path d="M431.5 213.5C433.2 209.2 435.1 209.1 437.0 208.0C438.9 206.9 442.0 189.5 443.0 207.0C444.0 224.5 445.4 294.8 443.0 313.0C440.6 331.2 433.1 316.1 428.4 316.3C423.7 316.5 417.5 314.4 414.6 314.0C411.7 313.6 411.4 317.0 411.0 314.0C410.6 311.0 411.7 301.7 412.5 296.0C413.3 290.3 414.6 286.5 416.0 280.0C417.4 273.5 418.9 264.7 420.7 257.0C422.5 249.3 425.1 241.2 426.9 234.0C428.7 226.8 429.8 217.8 431.5 213.5Z" fill="#b8b8b8"/></g></g><rect x="0" y="0" width="442" height="331" fill="none" stroke="#3a3a3a" stroke-width="1.3"/><path d="M-3.5 50.2H0M442 50.2H445.5M-3.5 172.0H0M442 172.0H445.5M-3.5 293.8H0M442 293.8H445.5M76 -3.5V0M76 331V334.5M226 -3.5V0M226 331V334.5M376 -3.5V0M376 331V334.5" stroke="#222" stroke-width="1.2" fill="none"/><text x="434" y="24.6" text-anchor="end" style="font-family:'Liberation Sans',sans-serif;font-size:24px">D−LOS prediction</text><text x="45.6" y="359.3" style="font-family:'Liberation Sans',sans-serif;font-size:26.3px">23.6</text><circle cx="101.4" cy="341.7" r="2.1" fill="none" stroke="#000" stroke-width="1"/><text x="195.6" y="359.3" style="font-family:'Liberation Sans',sans-serif;font-size:26.3px">24.0</text><circle cx="251.4" cy="341.7" r="2.1" fill="none" stroke="#000" stroke-width="1"/><text x="345.6" y="359.3" style="font-family:'Liberation Sans',sans-serif;font-size:26.3px">24.3</text><circle cx="401.4" cy="341.7" r="2.1" fill="none" stroke="#000" stroke-width="1"/></g><g transform="translate(988.5 442.5)"><rect x="0" y="0" width="442" height="331" fill="#87cefa"/><g mask="url(#landclip)"><g filter="url(#hill)"><rect x="0" y="0" width="442" height="331" fill="#9fff60"/><ellipse cx="50" cy="95" rx="14" ry="35" fill="#00dfff" filter="url(#mblur)"/><ellipse cx="47" cy="68" rx="10" ry="14" fill="#ff7300" filter="url(#mblur2)"/><ellipse cx="122" cy="45" rx="18" ry="40" fill="#00dfff" filter="url(#mblur)"/><ellipse cx="122" cy="100" rx="18" ry="15" fill="#80ff80" filter="url(#mblur)"/><ellipse cx="60" cy="200" rx="45" ry="85" fill="#00ecff" filter="url(#mblur)"/><ellipse cx="120" cy="235" rx="100" ry="55" fill="#00f9ff" filter="url(#mblur)"/><ellipse cx="65" cy="230" rx="8" ry="22" fill="#0020ff" filter="url(#mblur2)"/><ellipse cx="96" cy="220" rx="12" ry="12" fill="#0040ff" filter="url(#mblur2)"/><ellipse cx="95" cy="258" rx="6" ry="10" fill="#0040ff" filter="url(#mblur2)"/><ellipse cx="160" cy="248" rx="6" ry="18" fill="#004dff" filter="url(#mblur2)"/><ellipse cx="23" cy="205" rx="6" ry="9" fill="#0000df" filter="url(#mblur2)"/><ellipse cx="69" cy="180" rx="8" ry="7" fill="#ffff00" filter="url(#mblur2)"/><ellipse cx="57" cy="279" rx="12" ry="6" fill="#bfff40" filter="url(#mblur2)"/><ellipse cx="130" cy="270" rx="22" ry="8" fill="#b3ff4c" filter="url(#mblur2)"/><ellipse cx="135" cy="165" rx="25" ry="35" fill="#40ffbf" filter="url(#mblur)"/><ellipse cx="215" cy="145" rx="55" ry="35" fill="#bfff40" filter="url(#mblur)"/><ellipse cx="195" cy="145" rx="12" ry="10" fill="#ff9f00" filter="url(#mblur2)"/><ellipse cx="205" cy="240" rx="35" ry="35" fill="#1affe5" filter="url(#mblur)"/><ellipse cx="262" cy="211" rx="22" ry="10" fill="#0000df" filter="url(#mblur2)"/><ellipse cx="278" cy="208" rx="8" ry="6" fill="#ff4000" filter="url(#mblur2)"/><ellipse cx="330" cy="255" rx="80" ry="60" fill="#fff200" filter="url(#mblur)"/><ellipse cx="330" cy="305" rx="70" ry="14" fill="#ffb300" filter="url(#mblur)"/><ellipse cx="290" cy="95" rx="16" ry="30" fill="#60ff9f" filter="url(#mblur)"/><ellipse cx="335" cy="95" rx="24" ry="34" fill="#ffd900" filter="url(#mblur)"/><ellipse cx="320" cy="168" rx="30" ry="28" fill="#f2ff0d" filter="url(#mblur)"/><ellipse cx="372" cy="172" rx="22" ry="36" fill="#ff6600" filter="url(#mblur)"/><ellipse cx="398" cy="225" rx="14" ry="16" fill="#ffff00" filter="url(#mblur)"/><path d="M431.5 213.5C433.2 209.2 435.1 209.1 437.0 208.0C438.9 206.9 442.0 189.5 443.0 207.0C444.0 224.5 445.4 294.8 443.0 313.0C440.6 331.2 433.1 316.1 428.4 316.3C423.7 316.5 417.5 314.4 414.6 314.0C411.7 313.6 411.4 317.0 411.0 314.0C410.6 311.0 411.7 301.7 412.5 296.0C413.3 290.3 414.6 286.5 416.0 280.0C417.4 273.5 418.9 264.7 420.7 257.0C422.5 249.3 425.1 241.2 426.9 234.0C428.7 226.8 429.8 217.8 431.5 213.5Z" fill="#b8b8b8"/></g></g><rect x="0" y="0" width="442" height="331" fill="none" stroke="#3a3a3a" stroke-width="1.3"/><path d="M-3.5 50.2H0M442 50.2H445.5M-3.5 172.0H0M442 172.0H445.5M-3.5 293.8H0M442 293.8H445.5M76 -3.5V0M76 331V334.5M226 -3.5V0M226 331V334.5M376 -3.5V0M376 331V334.5" stroke="#222" stroke-width="1.2" fill="none"/><text x="434" y="24.6" text-anchor="end" style="font-family:'Liberation Sans',sans-serif;font-size:24px">D−LOS residual</text><text x="45.6" y="359.3" style="font-family:'Liberation Sans',sans-serif;font-size:26.3px">23.6</text><circle cx="101.4" cy="341.7" r="2.1" fill="none" stroke="#000" stroke-width="1"/><text x="195.6" y="359.3" style="font-family:'Liberation Sans',sans-serif;font-size:26.3px">24.0</text><circle cx="251.4" cy="341.7" r="2.1" fill="none" stroke="#000" stroke-width="1"/><text x="345.6" y="359.3" style="font-family:'Liberation Sans',sans-serif;font-size:26.3px">24.3</text><circle cx="401.4" cy="341.7" r="2.1" fill="none" stroke="#000" stroke-width="1"/></g><text x="272.3" y="418.5" text-anchor="middle" style="font-family:'Liberation Serif',serif;font-size:30px">(<tspan style="font-weight:bold">a</tspan>)</text><text x="756.5" y="418.5" text-anchor="middle" style="font-family:'Liberation Serif',serif;font-size:30px">(<tspan style="font-weight:bold">b</tspan>)</text><text x="1209.0" y="418.5" text-anchor="middle" style="font-family:'Liberation Serif',serif;font-size:30px">(<tspan style="font-weight:bold">c</tspan>)</text><text x="755.3" y="844.8" text-anchor="middle" style="font-family:'Liberation Serif',serif;font-size:30px">(<tspan style="font-weight:bold">d</tspan>)</text><text x="1208.5" y="844.8" text-anchor="middle" style="font-family:'Liberation Serif',serif;font-size:30px">(<tspan style="font-weight:bold">e</tspan>)</text><text x="284.0" y="1268.4" text-anchor="middle" style="font-family:'Liberation Serif',serif;font-size:30px">(<tspan style="font-weight:bold">f</tspan>)</text><text x="756.0" y="1268.4" text-anchor="middle" style="font-family:'Liberation Serif',serif;font-size:30px">(<tspan style="font-weight:bold">g</tspan>)</text><text x="1197.0" y="1268.4" text-anchor="middle" style="font-family:'Liberation Serif',serif;font-size:30px">(<tspan style="font-weight:bold">h</tspan>)</text><text x="755.3" y="1692.8" text-anchor="middle" style="font-family:'Liberation Serif',serif;font-size:30px">(<tspan style="font-weight:bold">i</tspan>)</text><text x="1197.0" y="1692.8" text-anchor="middle" style="font-family:'Liberation Serif',serif;font-size:30px">(<tspan style="font-weight:bold">j</tspan>)</text><rect x="110.4" y="597" width="371.2" height="21" fill="url(#jetg)"/><path d="M110.4 597L99.9 607.5L110.4 618Z" fill="#000080"/><path d="M481.6 597L492.4 607.5L481.6 618Z" fill="#800000"/><path d="M110.4 597H481.6L492.4 607.5L481.6 618H110.4L99.9 607.5Z" fill="none" stroke="#555" stroke-width="0.6"/><path d="M110.4 618V621" stroke="#aaa" stroke-width="0.8"/><text x="111.6" y="643.3" text-anchor="middle" style="font-family:'Liberation Sans',sans-serif;font-size:26px">−8</text><path d="M156.8 618V621" stroke="#aaa" stroke-width="0.8"/><text x="158.0" y="643.3" text-anchor="middle" style="font-family:'Liberation Sans',sans-serif;font-size:26px">−6</text><path d="M203.2 618V621" stroke="#aaa" stroke-width="0.8"/><text x="204.4" y="643.3" text-anchor="middle" style="font-family:'Liberation Sans',sans-serif;font-size:26px">−4</text><path d="M249.6 618V621" stroke="#aaa" stroke-width="0.8"/><text x="250.8" y="643.3" text-anchor="middle" style="font-family:'Liberation Sans',sans-serif;font-size:26px">−2</text><path d="M296.0 618V621" stroke="#aaa" stroke-width="0.8"/><text x="296.8" y="643.3" text-anchor="middle" style="font-family:'Liberation Sans',sans-serif;font-size:26px">0</text><path d="M342.4 618V621" stroke="#aaa" stroke-width="0.8"/><text x="343.2" y="643.3" text-anchor="middle" style="font-family:'Liberation Sans',sans-serif;font-size:26px">2</text><path d="M388.8 618V621" stroke="#aaa" stroke-width="0.8"/><text x="389.6" y="643.3" text-anchor="middle" style="font-family:'Liberation Sans',sans-serif;font-size:26px">4</text><path d="M435.2 618V621" stroke="#aaa" stroke-width="0.8"/><text x="436.0" y="643.3" text-anchor="middle" style="font-family:'Liberation Sans',sans-serif;font-size:26px">6</text><path d="M481.6 618V621" stroke="#aaa" stroke-width="0.8"/><text x="482.4" y="643.3" text-anchor="middle" style="font-family:'Liberation Sans',sans-serif;font-size:26px">8</text><text x="296.3" y="615.5" text-anchor="middle" style="font-family:'Liberation Sans',sans-serif;font-size:22px">rad</text><path d="M100.8 896.9H529.6M100.8 1138.4H529.6M223.3 866.7V1168.6" stroke="#7a7a7a" stroke-width="0.9" stroke-dasharray="2.2 1.8" fill="none"/><g clip-path="url(#pcf)"><g filter="url(#stf)"><path d="M104.5 1008.3C108.7 988.7 120.6 1005.9 129.8 1005.3C138.9 1004.6 149.6 1005.3 159.5 1004.4C169.4 1003.5 180.8 1001.4 189.3 999.9C197.7 998.5 203.9 997.6 210.1 995.8C216.3 993.9 221.3 991.8 226.5 988.6C231.7 985.4 235.9 981.2 241.3 976.7C246.8 972.3 253.0 965.9 259.2 961.8C265.4 957.8 271.4 955.3 278.5 952.3C285.7 949.3 294.4 946.9 302.4 944.0C310.3 941.1 317.7 938.5 326.2 935.0C334.6 931.6 343.5 927.0 352.9 923.1C362.4 919.3 372.8 915.5 382.7 912.1C392.6 908.8 402.5 905.2 412.5 903.2C422.4 901.2 432.3 900.7 442.2 900.2C452.1 899.7 462.0 900.0 472.0 900.2C481.9 900.5 493.3 900.9 501.7 901.7C510.2 902.6 519.1 902.3 522.6 905.3C526.0 908.3 526.0 915.8 522.6 919.6C519.1 923.3 510.2 924.5 501.7 927.9C493.3 931.3 481.9 934.8 472.0 939.8C462.0 944.8 449.7 951.7 442.2 957.7C434.8 963.6 432.3 969.6 427.3 975.5C422.4 981.5 418.4 986.4 412.5 993.4C406.5 1000.3 399.1 1010.2 391.6 1017.2C384.2 1024.1 375.8 1029.1 367.8 1035.0C359.9 1041.0 351.9 1047.0 344.0 1052.9C336.1 1058.9 328.1 1064.8 320.2 1070.8C312.3 1076.7 304.3 1082.9 296.4 1088.6C288.5 1094.3 280.5 1100.0 272.6 1105.0C264.7 1109.9 256.7 1114.8 248.8 1118.4C240.9 1122.0 233.4 1124.6 225.0 1126.4C216.6 1128.3 206.6 1129.0 198.2 1129.4C189.8 1129.8 181.8 1129.3 174.4 1128.8C167.0 1128.3 159.5 1126.5 153.6 1126.4C147.6 1126.4 144.6 1128.6 138.7 1128.5C132.7 1128.4 123.6 1126.5 117.9 1125.5C112.2 1124.5 106.7 1142.1 104.5 1122.5C102.2 1103.0 100.2 1027.8 104.5 1008.3Z" fill="#00f" fill-opacity="0.200"/><path d="M105.4 1014.2C109.4 998.5 120.7 1012.0 129.8 1011.2C138.8 1010.4 149.6 1010.2 159.5 1009.5C169.4 1008.7 180.8 1007.8 189.3 1006.5C197.7 1005.1 204.2 1002.6 210.1 1001.4C216.1 1000.2 220.0 1001.5 225.0 999.3C229.9 997.2 234.4 992.9 239.9 988.6C245.3 984.4 251.3 978.2 257.7 973.7C264.2 969.3 271.1 965.3 278.5 961.8C286.0 958.4 294.4 955.9 302.4 952.9C310.3 949.9 317.7 947.4 326.2 944.0C334.6 940.5 343.5 936.0 352.9 932.1C362.4 928.1 372.8 923.3 382.7 920.2C392.6 917.0 402.5 915.0 412.5 913.0C422.4 911.1 432.3 909.6 442.2 908.6C452.1 907.6 463.0 907.1 472.0 907.1C480.9 907.1 488.6 907.5 495.8 908.6C503.0 909.7 515.1 911.4 515.1 913.6C515.1 915.9 503.0 919.2 495.8 922.0C488.6 924.7 479.9 926.7 472.0 930.0C464.0 933.3 455.1 936.9 448.2 941.9C441.2 946.9 435.8 953.8 430.3 959.8C424.9 965.7 420.9 971.2 415.4 977.6C410.0 984.1 404.0 992.0 397.6 998.4C391.1 1004.9 383.7 1010.8 376.7 1016.3C369.8 1021.8 362.9 1026.2 355.9 1031.2C349.0 1036.1 342.0 1041.1 335.1 1046.1C328.1 1051.0 321.2 1056.0 314.3 1060.9C307.3 1065.9 300.4 1070.4 293.4 1075.8C286.5 1081.3 280.0 1088.7 272.6 1093.7C265.2 1098.6 256.7 1101.6 248.8 1105.6C240.9 1109.6 232.9 1115.0 225.0 1117.5C217.0 1120.0 208.6 1120.5 201.2 1120.5C193.7 1120.5 187.3 1117.1 180.3 1117.5C173.4 1117.8 166.0 1123.0 159.5 1122.5C153.1 1122.1 147.6 1116.8 141.7 1114.5C135.7 1112.2 129.9 1110.0 123.8 1108.6C117.8 1107.1 108.4 1121.3 105.4 1105.6C102.3 1089.9 101.3 1029.9 105.4 1014.2Z" fill="#00f" fill-opacity="0.400"/><path d="M228.0 1062.4C230.9 1053.0 246.3 1050.0 254.7 1044.6C263.2 1039.1 269.6 1034.9 278.5 1029.7C287.5 1024.5 298.4 1018.5 308.3 1013.3C318.2 1008.1 329.1 1003.4 338.1 998.4C347.0 993.5 353.9 989.0 361.9 983.6C369.8 978.1 378.7 971.8 385.7 965.7C392.6 959.6 397.6 952.7 403.5 947.0C409.5 941.2 414.9 935.4 421.4 931.5C427.8 927.5 438.0 921.9 442.2 923.1C446.4 924.4 447.9 933.8 446.7 938.9C445.4 944.0 439.7 948.3 434.8 953.8C429.8 959.3 422.9 965.2 416.9 971.7C411.0 978.1 405.5 986.4 399.1 992.5C392.6 998.6 385.7 1003.2 378.2 1008.3C370.8 1013.4 362.9 1017.7 354.4 1023.1C346.0 1028.6 336.1 1035.0 327.6 1041.0C319.2 1047.0 311.8 1053.4 303.8 1058.9C295.9 1064.3 287.5 1068.8 280.0 1073.7C272.6 1078.7 266.4 1084.1 259.2 1088.6C252.0 1093.2 242.1 1105.5 236.9 1101.1C231.7 1096.8 225.0 1071.9 228.0 1062.4Z" fill="#00f" fill-opacity="0.350"/><path d="M373.8 940.4C374.5 933.5 385.7 925.5 394.6 921.1C403.5 916.6 416.9 915.5 427.3 913.6C437.7 911.8 447.2 910.7 457.1 910.0C467.0 909.4 477.2 909.0 486.8 909.5C496.5 909.9 514.1 910.8 515.1 913.0C516.1 915.2 501.5 919.7 492.8 922.5C484.1 925.4 472.5 927.3 463.0 930.0C453.6 932.7 444.2 935.2 436.3 938.9C428.3 942.6 423.1 948.3 415.4 952.3C407.7 956.3 397.1 964.7 390.1 962.7C383.2 960.7 373.0 947.3 373.8 940.4Z" fill="#00f" fill-opacity="0.650"/><path d="M106.0 1018.4C109.9 1005.9 120.8 1019.9 129.8 1020.8C138.7 1021.7 149.6 1022.7 159.5 1023.7C169.4 1024.7 180.8 1026.5 189.3 1026.7C197.7 1027.0 204.2 1026.5 210.1 1025.2C216.1 1024.0 220.5 1021.3 225.0 1019.3C229.4 1017.3 231.9 1016.0 236.9 1013.3C241.8 1010.7 248.3 1006.8 254.7 1003.5C261.2 1000.2 268.6 996.6 275.6 993.4C282.5 990.2 289.5 987.3 296.4 984.5C303.3 981.6 310.3 979.0 317.2 976.1C324.2 973.2 331.6 970.1 338.1 967.2C344.5 964.3 350.0 961.6 355.9 958.9C361.9 956.1 368.8 953.0 373.8 950.8C378.7 948.6 382.4 945.5 385.7 945.8C388.9 946.0 393.6 949.8 393.1 952.3C392.6 954.8 387.4 957.7 382.7 960.6C378.0 963.6 371.3 966.7 364.8 970.2C358.4 973.6 351.0 977.8 344.0 981.5C337.1 985.2 330.1 988.8 323.2 992.5C316.2 996.2 309.0 999.8 302.4 1003.5C295.7 1007.2 289.0 1010.9 283.0 1014.8C277.1 1018.7 271.8 1022.5 266.6 1026.7C261.4 1030.9 256.2 1035.5 251.8 1040.1C247.3 1044.7 243.1 1048.9 239.9 1054.1C236.6 1059.3 234.9 1065.8 232.4 1071.4C229.9 1077.0 227.7 1082.5 225.0 1087.7C222.3 1092.9 220.5 1098.8 216.1 1102.6C211.6 1106.4 204.2 1109.8 198.2 1110.6C192.2 1111.5 186.3 1109.2 180.3 1107.7C174.4 1106.2 168.4 1103.5 162.5 1101.7C156.5 1100.0 151.1 1098.2 144.6 1097.2C138.2 1096.3 130.3 1096.0 123.8 1095.8C117.4 1095.5 108.9 1108.7 106.0 1095.8C103.0 1082.9 102.0 1030.9 106.0 1018.4Z" fill="#00f" fill-opacity="1.000"/><path d="M106.0 1092.2C109.9 1090.5 120.8 1092.2 129.8 1093.7C138.7 1095.2 149.6 1098.4 159.5 1101.1C169.4 1103.8 179.4 1109.6 189.3 1110.0C199.2 1110.5 213.1 1108.1 219.0 1104.1C225.0 1100.1 223.0 1091.2 225.0 1086.2C227.0 1081.3 232.9 1069.9 230.9 1074.3C228.9 1078.8 220.0 1105.8 213.1 1113.0C206.1 1120.2 198.2 1117.5 189.3 1117.5C180.3 1117.5 169.4 1115.3 159.5 1113.0C149.6 1110.8 138.7 1105.6 129.8 1104.1C120.8 1102.6 109.9 1106.1 106.0 1104.1C102.0 1102.1 102.0 1093.9 106.0 1092.2Z" fill="#00f" fill-opacity="0.600"/><path d="M106.0 981.5C108.3 978.5 118.6 977.8 121.4 980.0C124.2 982.2 125.0 991.6 122.6 994.6C120.2 997.5 109.9 999.7 107.1 997.5C104.4 995.4 103.6 984.4 106.0 981.5Z" fill="#00f" fill-opacity="0.400"/><path d="M105.4 1122.0C107.5 1114.8 115.5 1116.8 118.4 1124.3C121.4 1131.9 125.4 1160.0 123.2 1167.2C121.0 1174.3 108.3 1174.7 105.4 1167.2C102.4 1159.7 103.2 1129.1 105.4 1122.0Z" fill="#00f" fill-opacity="0.350"/><path d="M125.3 1135.3C127.5 1129.0 136.9 1124.1 139.3 1129.4C141.6 1134.7 141.5 1160.9 139.3 1167.2C137.1 1173.5 128.5 1172.5 126.2 1167.2C123.9 1161.9 123.1 1141.6 125.3 1135.3Z" fill="#00f" fill-opacity="0.250"/><path d="M373.8 1074.3C376.7 1070.4 393.1 1066.4 397.6 1068.4C402.0 1070.4 403.5 1082.3 400.6 1086.2C397.6 1090.2 384.2 1094.2 379.7 1092.2C375.3 1090.2 370.8 1078.3 373.8 1074.3Z" fill="#00f" fill-opacity="0.200"/></g><path d="M370.3 891.2h1.3v1.3h-1.3zM383.1 888.1h1.3v1.3h-1.3zM374.4 893.0h1.3v1.3h-1.3zM391.1 922.1h1.3v1.3h-1.3zM367.8 899.6h1.3v1.3h-1.3zM383.1 892.5h1.3v1.3h-1.3zM365.4 893.9h1.3v1.3h-1.3zM364.7 898.2h1.3v1.3h-1.3zM370.7 888.2h1.3v1.3h-1.3zM403.5 899.5h1.3v1.3h-1.3zM342.0 937.5h1.3v1.3h-1.3zM412.7 902.3h1.3v1.3h-1.3zM415.3 899.8h1.3v1.3h-1.3zM297.8 906.4h1.3v1.3h-1.3zM321.4 920.8h1.3v1.3h-1.3zM301.9 939.9h1.3v1.3h-1.3zM329.6 939.0h1.3v1.3h-1.3zM365.4 907.0h1.3v1.3h-1.3zM349.4 890.0h1.3v1.3h-1.3zM385.0 923.0h1.3v1.3h-1.3zM412.3 899.2h1.3v1.3h-1.3zM343.9 939.8h1.3v1.3h-1.3zM302.7 932.3h1.3v1.3h-1.3zM384.1 924.7h1.3v1.3h-1.3zM313.1 911.3h1.3v1.3h-1.3zM371.6 895.5h1.3v1.3h-1.3zM259.5 947.6h1.3v1.3h-1.3zM360.2 910.6h1.3v1.3h-1.3zM421.3 897.6h1.3v1.3h-1.3zM312.0 923.0h1.3v1.3h-1.3zM379.3 886.4h1.3v1.3h-1.3zM368.8 901.9h1.3v1.3h-1.3zM306.9 921.7h1.3v1.3h-1.3zM325.4 920.0h1.3v1.3h-1.3zM326.8 939.7h1.3v1.3h-1.3zM329.6 934.5h1.3v1.3h-1.3zM318.4 902.3h1.3v1.3h-1.3zM303.1 931.6h1.3v1.3h-1.3zM383.2 918.8h1.3v1.3h-1.3zM291.3 941.3h1.3v1.3h-1.3zM307.9 920.2h1.3v1.3h-1.3zM376.2 895.6h1.3v1.3h-1.3zM304.0 909.7h1.3v1.3h-1.3zM314.7 939.0h1.3v1.3h-1.3zM377.3 896.1h1.3v1.3h-1.3zM272.4 933.0h1.3v1.3h-1.3zM376.0 891.3h1.3v1.3h-1.3zM371.2 892.2h1.3v1.3h-1.3zM377.1 895.5h1.3v1.3h-1.3zM370.1 906.6h1.3v1.3h-1.3zM378.5 898.8h1.3v1.3h-1.3zM301.7 919.2h1.3v1.3h-1.3zM388.4 900.7h1.3v1.3h-1.3zM364.9 901.5h1.3v1.3h-1.3zM393.4 912.5h1.3v1.3h-1.3zM369.9 891.3h1.3v1.3h-1.3zM318.7 899.7h1.3v1.3h-1.3zM406.8 912.8h1.3v1.3h-1.3zM383.0 927.2h1.3v1.3h-1.3zM385.0 918.1h1.3v1.3h-1.3zM366.6 905.5h1.3v1.3h-1.3zM374.6 896.0h1.3v1.3h-1.3zM356.9 891.7h1.3v1.3h-1.3zM386.6 915.3h1.3v1.3h-1.3zM411.1 907.3h1.3v1.3h-1.3zM311.2 918.3h1.3v1.3h-1.3zM298.2 921.2h1.3v1.3h-1.3zM288.9 951.5h1.3v1.3h-1.3zM305.9 920.7h1.3v1.3h-1.3zM348.9 939.3h1.3v1.3h-1.3zM395.7 1005.6h1.3v1.3h-1.3zM404.1 1008.4h1.3v1.3h-1.3zM408.5 1005.1h1.3v1.3h-1.3zM341.7 1007.2h1.3v1.3h-1.3zM339.7 1019.0h1.3v1.3h-1.3zM394.6 1002.1h1.3v1.3h-1.3zM421.6 1043.2h1.3v1.3h-1.3zM425.8 1043.5h1.3v1.3h-1.3zM352.3 1028.3h1.3v1.3h-1.3zM370.4 1061.2h1.3v1.3h-1.3zM405.8 1039.5h1.3v1.3h-1.3zM391.4 1035.9h1.3v1.3h-1.3zM397.9 1002.0h1.3v1.3h-1.3zM376.0 1059.1h1.3v1.3h-1.3zM350.7 1008.8h1.3v1.3h-1.3zM365.0 1029.2h1.3v1.3h-1.3zM427.4 1033.7h1.3v1.3h-1.3zM365.3 1004.2h1.3v1.3h-1.3zM418.2 1032.8h1.3v1.3h-1.3zM355.6 1022.4h1.3v1.3h-1.3zM358.4 1024.7h1.3v1.3h-1.3zM394.7 1006.4h1.3v1.3h-1.3zM427.9 1038.7h1.3v1.3h-1.3zM410.8 1038.5h1.3v1.3h-1.3zM347.4 1073.4h1.3v1.3h-1.3zM353.9 1023.6h1.3v1.3h-1.3zM375.0 1073.6h1.3v1.3h-1.3zM354.5 1011.2h1.3v1.3h-1.3zM399.0 1011.1h1.3v1.3h-1.3zM366.9 1011.2h1.3v1.3h-1.3zM402.6 1027.4h1.3v1.3h-1.3zM409.2 1029.0h1.3v1.3h-1.3zM398.4 1009.7h1.3v1.3h-1.3zM428.9 1037.0h1.3v1.3h-1.3zM348.4 1029.0h1.3v1.3h-1.3zM282.7 1131.0h1.3v1.3h-1.3zM263.2 1131.5h1.3v1.3h-1.3zM292.7 1122.0h1.3v1.3h-1.3zM259.2 1112.2h1.3v1.3h-1.3zM262.6 1131.0h1.3v1.3h-1.3zM261.8 1129.2h1.3v1.3h-1.3zM260.3 1132.8h1.3v1.3h-1.3zM258.8 1119.4h1.3v1.3h-1.3zM280.9 1122.2h1.3v1.3h-1.3zM274.6 1113.7h1.3v1.3h-1.3zM200.0 1122.7h1.3v1.3h-1.3zM278.8 1110.9h1.3v1.3h-1.3zM258.3 1130.5h1.3v1.3h-1.3zM285.5 1118.2h1.3v1.3h-1.3zM262.3 1120.3h1.3v1.3h-1.3zM136.3 988.6h1.3v1.3h-1.3zM113.8 970.3h1.3v1.3h-1.3zM111.9 968.9h1.3v1.3h-1.3zM130.7 991.4h1.3v1.3h-1.3zM134.5 993.1h1.3v1.3h-1.3zM126.0 992.9h1.3v1.3h-1.3zM132.4 988.4h1.3v1.3h-1.3zM133.1 992.2h1.3v1.3h-1.3zM124.0 990.1h1.3v1.3h-1.3zM180.4 991.7h1.3v1.3h-1.3zM106.8 965.1h1.3v1.3h-1.3zM114.1 971.5h1.3v1.3h-1.3zM111.7 983.7h1.3v1.3h-1.3zM124.7 988.9h1.3v1.3h-1.3zM129.8 989.2h1.3v1.3h-1.3z" fill="#1a1aff"/></g><path d="M100.8 866.7v6.0M100.8 1168.6v-6.0M118.3 866.7v3.5M118.3 1168.6v-3.5M135.8 866.7v3.5M135.8 1168.6v-3.5M153.3 866.7v3.5M153.3 1168.6v-3.5M170.8 866.7v3.5M170.8 1168.6v-3.5M188.3 866.7v3.5M188.3 1168.6v-3.5M205.8 866.7v3.5M205.8 1168.6v-3.5M223.3 866.7v6.0M223.3 1168.6v-6.0M240.8 866.7v3.5M240.8 1168.6v-3.5M258.3 866.7v3.5M258.3 1168.6v-3.5M275.8 866.7v3.5M275.8 1168.6v-3.5M293.3 866.7v3.5M293.3 1168.6v-3.5M310.8 866.7v3.5M310.8 1168.6v-3.5M328.3 866.7v3.5M328.3 1168.6v-3.5M345.8 866.7v6.0M345.8 1168.6v-6.0M363.3 866.7v3.5M363.3 1168.6v-3.5M380.8 866.7v3.5M380.8 1168.6v-3.5M398.3 866.7v3.5M398.3 1168.6v-3.5M415.8 866.7v3.5M415.8 1168.6v-3.5M433.3 866.7v3.5M433.3 1168.6v-3.5M450.8 866.7v3.5M450.8 1168.6v-3.5M468.3 866.7v6.0M468.3 1168.6v-6.0M485.8 866.7v3.5M485.8 1168.6v-3.5M503.3 866.7v3.5M503.3 1168.6v-3.5M520.8 866.7v3.5M520.8 1168.6v-3.5M100.8 1153.5h3.5M529.6 1153.5h-3.5M100.8 1138.4h6.0M529.6 1138.4h-6.0M100.8 1123.3h3.5M529.6 1123.3h-3.5M100.8 1108.2h3.5M529.6 1108.2h-3.5M100.8 1093.1h3.5M529.6 1093.1h-3.5M100.8 1078.0h6.0M529.6 1078.0h-6.0M100.8 1062.9h3.5M529.6 1062.9h-3.5M100.8 1047.8h3.5M529.6 1047.8h-3.5M100.8 1032.7h3.5M529.6 1032.7h-3.5M100.8 1017.6h6.0M529.6 1017.6h-6.0M100.8 1002.6h3.5M529.6 1002.6h-3.5M100.8 987.5h3.5M529.6 987.5h-3.5M100.8 972.4h3.5M529.6 972.4h-3.5M100.8 957.3h6.0M529.6 957.3h-6.0M100.8 942.2h3.5M529.6 942.2h-3.5M100.8 927.1h3.5M529.6 927.1h-3.5M100.8 912.0h3.5M529.6 912.0h-3.5M100.8 896.9h6.0M529.6 896.9h-6.0M100.8 881.8h3.5M529.6 881.8h-3.5" stroke="#111" stroke-width="1.1" fill="none"/><rect x="100.8" y="866.7" width="428.8" height="301.9" fill="none" stroke="#0a0a0a" stroke-width="2.2"/><text x="100.8" y="1194.1" text-anchor="middle" style="font-family:'Liberation Sans',sans-serif;font-size:24px">0</text><text x="223.3" y="1194.1" text-anchor="middle" style="font-family:'Liberation Sans',sans-serif;font-size:24px">700</text><text x="345.8" y="1194.1" text-anchor="middle" style="font-family:'Liberation Sans',sans-serif;font-size:24px">1400</text><text x="468.3" y="1194.1" text-anchor="middle" style="font-family:'Liberation Sans',sans-serif;font-size:24px">2100</text><text x="315.4" y="1220.4" text-anchor="middle" style="font-family:'Liberation Sans',sans-serif;font-size:25px;letter-spacing:0.4px">Elevation (m)</text><text x="524.3" y="890.1" text-anchor="end" style="font-family:'Liberation Sans',sans-serif;font-size:24px">Original</text><text x="92.7" y="906.1" text-anchor="end" style="font-family:'Liberation Sans',sans-serif;font-size:25px">8</text><text x="92.7" y="966.5" text-anchor="end" style="font-family:'Liberation Sans',sans-serif;font-size:25px">4</text><text x="92.7" y="1026.8" text-anchor="end" style="font-family:'Liberation Sans',sans-serif;font-size:25px">0</text><text x="92.7" y="1087.2" text-anchor="end" style="font-family:'Liberation Sans',sans-serif;font-size:25px">−4</text><text x="92.7" y="1147.6" text-anchor="end" style="font-family:'Liberation Sans',sans-serif;font-size:25px">−8</text><text transform="translate(58.4 1017.2) rotate(-90)" x="0" y="0" text-anchor="middle" style="font-family:'Liberation Sans',sans-serif;font-size:26px">Phase Value (rad)</text><path d="M542.1 957.3H970.3M542.1 1017.6H970.3M542.1 1078.0H970.3M542.1 1138.4H970.3M664.6 866.7V1168.6" stroke="#7a7a7a" stroke-width="0.9" stroke-dasharray="2.2 1.8" fill="none"/><g clip-path="url(#pcg)"><g filter="url(#stg)"><path d="M648.1 1011.8C648.1 999.4 662.5 1010.3 669.0 1005.9C675.4 1001.4 680.9 992.0 686.8 985.0C692.8 978.1 698.2 970.2 704.7 964.2C711.1 958.3 718.1 953.3 725.5 949.3C732.9 945.4 742.4 942.8 749.3 940.4C756.2 938.0 761.2 936.6 767.2 935.0C773.1 933.5 773.1 931.7 785.0 930.9C796.9 930.0 819.7 929.8 838.6 930.0C857.4 930.2 877.3 931.1 898.1 932.1C918.9 933.0 952.6 934.0 963.6 935.6C974.5 937.3 972.0 940.2 963.6 942.2C955.1 944.2 923.9 944.2 913.0 947.8C902.1 951.5 901.6 958.0 898.1 964.2C894.6 970.4 897.1 980.6 892.1 985.0C887.2 989.5 879.7 989.5 868.3 991.0C856.9 992.5 834.6 990.0 823.7 994.0C812.8 997.9 807.3 1008.4 802.9 1014.8C798.4 1021.3 800.9 1026.7 796.9 1032.7C792.9 1038.6 787.0 1045.3 779.1 1050.5C771.1 1055.7 759.2 1059.7 749.3 1063.9C739.4 1068.1 729.5 1073.0 719.5 1075.8C709.6 1078.6 698.2 1080.1 689.8 1080.9C681.4 1081.6 675.9 1091.8 669.0 1080.3C662.0 1068.8 648.1 1024.2 648.1 1011.8Z" fill="#00f" fill-opacity="0.180"/><path d="M758.2 937.4C760.2 935.8 770.6 934.2 779.1 933.3C787.5 932.3 798.9 932.1 808.8 931.8C818.7 931.5 828.7 931.4 838.6 931.5C848.5 931.5 858.4 931.6 868.3 932.1C878.3 932.6 888.2 933.8 898.1 934.5C908.0 935.1 916.9 935.6 927.8 935.9C938.8 936.3 957.6 935.9 963.6 936.5C969.5 937.2 968.5 938.9 963.6 939.8C958.6 940.8 942.2 941.5 933.8 942.2C925.4 942.9 921.4 943.7 913.0 944.0C904.5 944.3 893.1 944.2 883.2 944.0C873.3 943.8 863.4 943.3 853.5 942.8C843.5 942.3 833.6 941.3 823.7 941.0C813.8 940.7 803.4 940.7 793.9 941.0C784.5 941.3 773.1 943.4 767.2 942.8C761.2 942.2 756.2 939.0 758.2 937.4Z" fill="#00f" fill-opacity="0.800"/><path d="M680.9 999.9C683.3 984.6 690.3 987.8 695.7 982.1C701.2 976.4 707.1 970.4 713.6 965.7C720.0 961.0 727.5 957.1 734.4 953.8C741.4 950.5 747.8 947.9 755.3 945.8C762.7 943.6 770.1 941.6 779.1 941.0C788.0 940.4 798.9 941.4 808.8 941.9C818.7 942.4 828.7 943.2 838.6 944.0C848.5 944.7 859.4 945.0 868.3 946.4C877.3 947.7 887.2 949.3 892.1 952.3C897.1 955.3 899.6 960.0 898.1 964.2C896.6 968.4 889.2 974.4 883.2 977.6C877.3 980.8 869.8 982.6 862.4 983.6C854.9 984.6 846.0 983.3 838.6 983.6C831.1 983.8 823.7 983.3 817.7 985.0C811.8 986.8 806.3 990.0 802.9 994.0C799.4 997.9 798.9 1003.9 796.9 1008.9C794.9 1013.8 794.4 1018.8 791.0 1023.7C787.5 1028.7 782.0 1033.9 776.1 1038.6C770.1 1043.3 762.2 1047.8 755.3 1052.0C748.3 1056.2 741.4 1060.2 734.4 1063.9C727.5 1067.6 720.0 1072.0 713.6 1074.3C707.1 1076.7 701.2 1077.9 695.7 1077.9C690.3 1077.9 683.3 1087.3 680.9 1074.3C678.4 1061.3 678.4 1015.3 680.9 999.9Z" fill="#00f" fill-opacity="0.550"/><path d="M671.9 1020.8C672.4 1010.0 679.9 1016.0 683.8 1013.3C687.8 1010.6 691.8 1007.2 695.7 1004.4C699.7 1001.6 703.7 999.1 707.6 996.4C711.6 993.6 715.1 990.7 719.5 988.0C724.0 985.4 729.5 982.8 734.4 980.6C739.4 978.4 743.8 976.6 749.3 974.6C754.8 972.6 761.2 970.2 767.2 968.7C773.1 967.2 780.1 965.0 785.0 965.7C790.0 966.4 795.4 968.4 796.9 973.1C798.4 977.9 796.9 987.5 793.9 994.0C791.0 1000.4 784.5 1006.1 779.1 1011.8C773.6 1017.5 767.7 1022.7 761.2 1028.2C754.8 1033.7 747.3 1039.4 740.4 1044.6C733.4 1049.8 726.5 1054.7 719.5 1059.5C712.6 1064.2 705.2 1069.8 698.7 1072.8C692.3 1075.9 685.3 1086.6 680.9 1077.9C676.4 1069.2 671.4 1031.5 671.9 1020.8Z" fill="#00f" fill-opacity="0.700"/><path d="M547.0 1008.9C548.9 995.1 552.4 1008.6 558.9 1009.5C565.3 1010.3 576.2 1012.9 585.6 1014.2C595.1 1015.5 606.5 1016.4 615.4 1017.2C624.3 1017.9 631.8 1018.2 639.2 1018.7C646.6 1019.2 654.6 1019.8 660.0 1020.2C665.5 1020.5 668.0 1021.8 671.9 1020.8C675.9 1019.8 679.9 1016.7 683.8 1014.2C687.8 1011.7 691.8 1008.5 695.7 1005.9C699.7 1003.3 703.7 1000.9 707.6 998.4C711.6 996.0 715.6 993.0 719.5 991.0C723.5 989.0 728.0 987.4 731.4 986.5C734.9 985.6 738.4 984.4 740.4 985.6C742.4 986.9 743.8 990.1 743.4 994.0C742.9 997.8 739.9 1003.9 737.4 1008.9C734.9 1013.8 731.7 1018.8 728.5 1023.7C725.2 1028.7 721.8 1033.7 718.1 1038.6C714.3 1043.6 710.1 1048.9 706.2 1053.5C702.2 1058.1 698.2 1062.4 694.3 1066.0C690.3 1069.6 686.1 1073.1 682.3 1075.2C678.6 1077.3 675.7 1077.7 671.9 1078.5C668.2 1079.3 667.0 1079.5 660.0 1080.3C653.1 1081.1 640.2 1082.3 630.3 1083.3C620.4 1084.3 610.4 1085.2 600.5 1086.2C590.6 1087.2 579.7 1088.2 570.8 1089.2C561.8 1090.2 550.9 1105.6 547.0 1092.2C543.0 1078.8 545.0 1022.6 547.0 1008.9Z" fill="#00f" fill-opacity="1.000"/><path d="M547.0 1083.3C555.9 1079.8 581.7 1081.0 600.5 1080.3C619.4 1079.5 647.1 1079.2 660.0 1078.8C672.9 1078.4 682.8 1076.7 677.9 1077.9C672.9 1079.1 643.2 1084.0 630.3 1086.2C617.4 1088.5 610.4 1089.9 600.5 1091.6C590.6 1093.3 579.7 1095.1 570.8 1096.7C561.8 1098.2 550.9 1103.4 547.0 1101.1C543.0 1098.9 538.0 1086.7 547.0 1083.3Z" fill="#00f" fill-opacity="0.750"/><path d="M543.4 979.1C544.1 978.7 546.9 978.7 547.5 979.1C548.2 979.5 548.2 981.1 547.5 981.5C546.9 981.9 544.1 981.9 543.4 981.5C542.7 981.1 542.7 979.5 543.4 979.1Z" fill="#00f" fill-opacity="0.900"/></g><path d="M900.9 1031.0h1.3v1.3h-1.3zM900.4 1028.0h1.3v1.3h-1.3zM807.7 1009.3h1.3v1.3h-1.3zM903.8 1039.4h1.3v1.3h-1.3zM896.1 1028.7h1.3v1.3h-1.3zM896.4 989.6h1.3v1.3h-1.3zM884.6 1007.9h1.3v1.3h-1.3zM900.6 1032.6h1.3v1.3h-1.3zM870.2 1037.9h1.3v1.3h-1.3zM887.7 1051.4h1.3v1.3h-1.3zM904.1 1027.7h1.3v1.3h-1.3zM893.7 1027.6h1.3v1.3h-1.3zM908.7 1031.9h1.3v1.3h-1.3zM855.8 1024.6h1.3v1.3h-1.3zM863.6 1010.5h1.3v1.3h-1.3zM818.2 993.5h1.3v1.3h-1.3zM894.3 1031.5h1.3v1.3h-1.3zM902.3 1032.4h1.3v1.3h-1.3zM840.9 1044.0h1.3v1.3h-1.3zM799.4 1014.7h1.3v1.3h-1.3zM849.2 992.6h1.3v1.3h-1.3zM904.4 1026.5h1.3v1.3h-1.3zM804.5 1016.6h1.3v1.3h-1.3zM900.0 1041.5h1.3v1.3h-1.3zM837.2 994.7h1.3v1.3h-1.3zM809.6 1002.4h1.3v1.3h-1.3zM801.9 1003.5h1.3v1.3h-1.3zM874.5 1043.6h1.3v1.3h-1.3zM854.6 994.4h1.3v1.3h-1.3zM901.4 986.3h1.3v1.3h-1.3zM888.4 998.9h1.3v1.3h-1.3zM798.4 996.1h1.3v1.3h-1.3zM896.7 1038.9h1.3v1.3h-1.3zM823.6 1022.2h1.3v1.3h-1.3zM865.0 1019.5h1.3v1.3h-1.3zM805.1 1009.6h1.3v1.3h-1.3zM868.0 985.1h1.3v1.3h-1.3zM882.4 1029.2h1.3v1.3h-1.3zM800.1 996.0h1.3v1.3h-1.3zM849.0 1050.2h1.3v1.3h-1.3zM886.3 1039.3h1.3v1.3h-1.3zM867.9 1031.1h1.3v1.3h-1.3zM883.7 999.7h1.3v1.3h-1.3zM852.2 987.2h1.3v1.3h-1.3zM881.3 1020.4h1.3v1.3h-1.3zM863.8 1014.3h1.3v1.3h-1.3zM885.5 1005.9h1.3v1.3h-1.3zM894.7 995.4h1.3v1.3h-1.3zM803.5 1008.1h1.3v1.3h-1.3zM909.0 995.8h1.3v1.3h-1.3zM873.9 1048.0h1.3v1.3h-1.3zM897.6 1034.9h1.3v1.3h-1.3zM870.6 999.5h1.3v1.3h-1.3zM817.6 993.9h1.3v1.3h-1.3zM903.8 1045.3h1.3v1.3h-1.3zM912.3 988.7h1.3v1.3h-1.3zM876.8 1028.9h1.3v1.3h-1.3zM890.6 984.5h1.3v1.3h-1.3zM882.0 1010.3h1.3v1.3h-1.3zM901.0 986.9h1.3v1.3h-1.3zM887.0 1033.4h1.3v1.3h-1.3zM893.7 989.0h1.3v1.3h-1.3zM873.0 1046.3h1.3v1.3h-1.3zM899.5 1041.6h1.3v1.3h-1.3zM831.6 988.3h1.3v1.3h-1.3zM894.5 1029.0h1.3v1.3h-1.3zM888.4 1016.6h1.3v1.3h-1.3zM909.9 1029.0h1.3v1.3h-1.3zM877.1 1043.9h1.3v1.3h-1.3zM897.8 986.5h1.3v1.3h-1.3zM808.4 997.3h1.3v1.3h-1.3zM857.5 1028.7h1.3v1.3h-1.3zM869.5 1055.7h1.3v1.3h-1.3zM903.9 1032.1h1.3v1.3h-1.3zM842.4 1048.3h1.3v1.3h-1.3zM901.6 1025.0h1.3v1.3h-1.3zM909.3 986.7h1.3v1.3h-1.3zM833.7 1004.4h1.3v1.3h-1.3zM821.2 1021.9h1.3v1.3h-1.3zM898.8 991.8h1.3v1.3h-1.3zM895.0 1005.7h1.3v1.3h-1.3zM839.0 1044.0h1.3v1.3h-1.3zM800.3 994.8h1.3v1.3h-1.3zM813.4 995.7h1.3v1.3h-1.3zM821.6 1019.5h1.3v1.3h-1.3zM847.3 987.6h1.3v1.3h-1.3zM829.4 1025.1h1.3v1.3h-1.3zM808.0 1005.5h1.3v1.3h-1.3zM807.7 1006.7h1.3v1.3h-1.3zM847.6 994.7h1.3v1.3h-1.3zM714.8 939.9h1.3v1.3h-1.3zM692.2 965.6h1.3v1.3h-1.3zM698.3 972.0h1.3v1.3h-1.3zM706.2 942.5h1.3v1.3h-1.3zM680.5 988.7h1.3v1.3h-1.3zM693.5 968.4h1.3v1.3h-1.3zM700.0 945.1h1.3v1.3h-1.3zM674.0 987.5h1.3v1.3h-1.3zM693.0 953.4h1.3v1.3h-1.3zM678.6 983.4h1.3v1.3h-1.3zM677.4 990.6h1.3v1.3h-1.3zM695.0 960.7h1.3v1.3h-1.3zM697.8 964.5h1.3v1.3h-1.3zM672.3 989.8h1.3v1.3h-1.3zM669.9 992.4h1.3v1.3h-1.3zM693.3 974.5h1.3v1.3h-1.3zM672.1 981.4h1.3v1.3h-1.3zM679.2 992.3h1.3v1.3h-1.3zM679.1 980.2h1.3v1.3h-1.3zM675.6 985.2h1.3v1.3h-1.3zM701.6 955.7h1.3v1.3h-1.3zM644.0 1005.3h1.3v1.3h-1.3zM657.8 1001.1h1.3v1.3h-1.3zM675.3 984.7h1.3v1.3h-1.3zM657.7 998.0h1.3v1.3h-1.3zM690.9 966.1h1.3v1.3h-1.3zM699.8 965.9h1.3v1.3h-1.3zM679.8 964.0h1.3v1.3h-1.3zM685.5 979.3h1.3v1.3h-1.3zM689.0 956.3h1.3v1.3h-1.3zM652.7 1000.8h1.3v1.3h-1.3zM684.3 980.9h1.3v1.3h-1.3zM691.6 970.4h1.3v1.3h-1.3zM666.7 1000.2h1.3v1.3h-1.3zM671.3 998.5h1.3v1.3h-1.3zM668.6 1004.4h1.3v1.3h-1.3zM678.6 971.1h1.3v1.3h-1.3zM657.0 1000.4h1.3v1.3h-1.3zM654.9 995.1h1.3v1.3h-1.3zM706.8 951.7h1.3v1.3h-1.3zM684.7 968.1h1.3v1.3h-1.3zM709.6 953.4h1.3v1.3h-1.3zM653.9 996.7h1.3v1.3h-1.3zM683.9 983.2h1.3v1.3h-1.3zM687.0 974.6h1.3v1.3h-1.3z" fill="#1a1aff"/><path d="M558.9 1058.0C563.3 1058.5 577.7 1060.2 585.6 1060.9C593.6 1061.7 603.0 1062.2 606.5 1062.4" fill="none" stroke="#fff" stroke-width="0.9" stroke-opacity="0.5"/><path d="M627.3 1032.7C629.8 1032.7 637.7 1032.4 642.2 1032.7C646.6 1032.9 652.1 1033.9 654.1 1034.2" fill="none" stroke="#fff" stroke-width="0.9" stroke-opacity="0.5"/><path d="M549.9 1044.6C554.4 1045.3 568.3 1047.8 576.7 1049.0C585.1 1050.3 596.5 1051.5 600.5 1052.0" fill="none" stroke="#fff" stroke-width="0.9" stroke-opacity="0.5"/><path d="M570.8 1032.7C575.7 1033.2 592.6 1034.9 600.5 1035.6C608.5 1036.4 615.4 1036.9 618.4 1037.1" fill="none" stroke="#fff" stroke-width="0.9" stroke-opacity="0.5"/></g><path d="M542.1 866.7v6.0M542.1 1168.6v-6.0M559.6 866.7v3.5M559.6 1168.6v-3.5M577.1 866.7v3.5M577.1 1168.6v-3.5M594.6 866.7v3.5M594.6 1168.6v-3.5M612.1 866.7v3.5M612.1 1168.6v-3.5M629.6 866.7v3.5M629.6 1168.6v-3.5M647.1 866.7v3.5M647.1 1168.6v-3.5M664.6 866.7v6.0M664.6 1168.6v-6.0M682.1 866.7v3.5M682.1 1168.6v-3.5M699.6 866.7v3.5M699.6 1168.6v-3.5M717.1 866.7v3.5M717.1 1168.6v-3.5M734.6 866.7v3.5M734.6 1168.6v-3.5M752.1 866.7v3.5M752.1 1168.6v-3.5M769.6 866.7v3.5M769.6 1168.6v-3.5M787.1 866.7v6.0M787.1 1168.6v-6.0M804.6 866.7v3.5M804.6 1168.6v-3.5M822.1 866.7v3.5M822.1 1168.6v-3.5M839.6 866.7v3.5M839.6 1168.6v-3.5M857.1 866.7v3.5M857.1 1168.6v-3.5M874.6 866.7v3.5M874.6 1168.6v-3.5M892.1 866.7v3.5M892.1 1168.6v-3.5M909.6 866.7v6.0M909.6 1168.6v-6.0M927.1 866.7v3.5M927.1 1168.6v-3.5M944.6 866.7v3.5M944.6 1168.6v-3.5M962.1 866.7v3.5M962.1 1168.6v-3.5M542.1 1153.5h3.5M970.3 1153.5h-3.5M542.1 1138.4h6.0M970.3 1138.4h-6.0M542.1 1123.3h3.5M970.3 1123.3h-3.5M542.1 1108.2h3.5M970.3 1108.2h-3.5M542.1 1093.1h3.5M970.3 1093.1h-3.5M542.1 1078.0h6.0M970.3 1078.0h-6.0M542.1 1062.9h3.5M970.3 1062.9h-3.5M542.1 1047.8h3.5M970.3 1047.8h-3.5M542.1 1032.7h3.5M970.3 1032.7h-3.5M542.1 1017.6h6.0M970.3 1017.6h-6.0M542.1 1002.6h3.5M970.3 1002.6h-3.5M542.1 987.5h3.5M970.3 987.5h-3.5M542.1 972.4h3.5M970.3 972.4h-3.5M542.1 957.3h6.0M970.3 957.3h-6.0M542.1 942.2h3.5M970.3 942.2h-3.5M542.1 927.1h3.5M970.3 927.1h-3.5M542.1 912.0h3.5M970.3 912.0h-3.5M542.1 896.9h6.0M970.3 896.9h-6.0M542.1 881.8h3.5M970.3 881.8h-3.5" stroke="#111" stroke-width="1.1" fill="none"/><rect x="542.1" y="866.7" width="428.2" height="301.9" fill="none" stroke="#0a0a0a" stroke-width="2.2"/><text x="542.1" y="1194.1" text-anchor="middle" style="font-family:'Liberation Sans',sans-serif;font-size:24px">0</text><text x="664.6" y="1194.1" text-anchor="middle" style="font-family:'Liberation Sans',sans-serif;font-size:24px">700</text><text x="787.1" y="1194.1" text-anchor="middle" style="font-family:'Liberation Sans',sans-serif;font-size:24px">1400</text><text x="909.6" y="1194.1" text-anchor="middle" style="font-family:'Liberation Sans',sans-serif;font-size:24px">2100</text><text x="756.4" y="1220.4" text-anchor="middle" style="font-family:'Liberation Sans',sans-serif;font-size:25px;letter-spacing:0.4px">Elevation (m)</text><text x="965.0" y="890.1" text-anchor="end" style="font-family:'Liberation Sans',sans-serif;font-size:24px">Z−LOS prediction</text><path d="M983.0 957.3H1410.9M983.0 1017.6H1410.9M983.0 1078.0H1410.9M983.0 1138.4H1410.9M1105.5 866.7V1168.6" stroke="#7a7a7a" stroke-width="0.9" stroke-dasharray="2.2 1.8" fill="none"/><g clip-path="url(#pch)"><g filter="url(#sth)"><path d="M988.0 924.0C991.9 890.2 1002.8 925.0 1011.8 927.0C1020.7 929.0 1031.6 933.1 1041.5 935.9C1051.4 938.8 1060.4 940.9 1071.3 944.0C1082.2 947.1 1096.1 953.5 1107.0 954.7C1117.9 955.8 1126.8 952.7 1136.7 950.8C1146.7 948.9 1156.6 945.1 1166.5 943.4C1176.4 941.6 1186.3 940.4 1196.3 940.4C1206.2 940.4 1217.1 941.4 1226.0 943.4C1234.9 945.4 1240.9 948.8 1249.8 952.3C1258.7 955.8 1269.7 961.2 1279.6 964.2C1289.5 967.2 1299.4 968.7 1309.3 970.2C1319.3 971.7 1329.2 971.2 1339.1 973.1C1349.0 975.1 1357.9 979.3 1368.8 982.1C1379.8 984.8 1398.6 985.4 1404.6 989.5C1410.5 993.6 1410.5 1002.2 1404.6 1006.5C1398.6 1010.8 1378.3 1010.9 1368.8 1015.4C1359.4 1019.9 1355.5 1026.3 1348.0 1033.3C1340.6 1040.2 1333.1 1049.1 1324.2 1057.1C1315.3 1065.0 1304.4 1073.9 1294.5 1080.9C1284.5 1087.8 1274.6 1093.4 1264.7 1098.7C1254.8 1104.1 1244.9 1109.3 1234.9 1113.0C1225.0 1116.8 1215.1 1119.5 1205.2 1121.4C1195.3 1123.2 1185.3 1124.3 1175.4 1124.3C1165.5 1124.3 1155.6 1122.8 1145.7 1121.4C1135.7 1119.9 1125.8 1114.9 1115.9 1115.4C1106.0 1115.9 1096.1 1121.9 1086.2 1124.3C1076.2 1126.8 1066.3 1130.3 1056.4 1130.3C1046.5 1130.3 1035.1 1125.3 1026.6 1124.3C1018.2 1123.3 1012.3 1123.3 1005.8 1124.3C999.4 1125.3 990.9 1163.7 988.0 1130.3C985.0 1096.9 984.0 957.9 988.0 924.0Z" fill="#00f" fill-opacity="0.180"/><path d="M988.0 930.0C991.9 901.1 1002.8 935.7 1011.8 938.0C1020.7 940.4 1031.6 941.5 1041.5 944.0C1051.4 946.5 1061.4 949.5 1071.3 952.9C1081.2 956.3 1091.1 961.6 1101.0 964.2C1110.9 966.8 1120.9 969.2 1130.8 968.7C1140.7 968.2 1150.6 963.0 1160.5 961.2C1170.5 959.5 1180.4 957.8 1190.3 958.3C1200.2 958.8 1210.1 961.2 1220.1 964.2C1230.0 967.2 1239.9 972.6 1249.8 976.1C1259.7 979.6 1269.7 982.8 1279.6 985.0C1289.5 987.3 1299.4 988.5 1309.3 989.5C1319.3 990.5 1329.2 990.3 1339.1 991.0C1349.0 991.7 1359.9 993.0 1368.8 994.0C1377.8 995.0 1392.7 994.5 1392.7 997.0C1392.7 999.4 1377.8 1005.9 1368.8 1008.9C1359.9 1011.8 1348.0 1010.3 1339.1 1014.8C1330.2 1019.3 1322.7 1028.2 1315.3 1035.6C1307.8 1043.1 1301.4 1053.0 1294.5 1059.5C1287.5 1065.9 1281.1 1069.4 1273.6 1074.3C1266.2 1079.3 1257.8 1084.8 1249.8 1089.2C1241.9 1093.7 1234.9 1097.2 1226.0 1101.1C1217.1 1105.1 1206.2 1111.8 1196.3 1113.0C1186.3 1114.3 1176.4 1110.3 1166.5 1108.6C1156.6 1106.8 1146.2 1105.1 1136.7 1102.6C1127.3 1100.1 1118.4 1093.9 1110.0 1093.7C1101.5 1093.4 1093.6 1100.6 1086.2 1101.1C1078.7 1101.6 1072.8 1098.4 1065.3 1096.7C1057.9 1094.9 1049.5 1090.2 1041.5 1090.7C1033.6 1091.2 1024.7 1096.2 1017.7 1099.6C1010.8 1103.1 1004.8 1109.6 999.9 1111.5C994.9 1113.5 989.9 1141.8 988.0 1111.5C986.0 1081.3 984.0 958.9 988.0 930.0Z" fill="#00f" fill-opacity="0.400"/><path d="M1243.9 988.0C1249.8 985.3 1268.7 991.1 1279.6 992.5C1290.5 993.9 1299.4 995.6 1309.3 996.4C1319.3 997.1 1329.2 996.6 1339.1 997.0C1349.0 997.3 1358.9 997.9 1368.8 998.4C1378.8 998.9 1398.6 998.6 1398.6 999.9C1398.6 1001.3 1378.8 1004.9 1368.8 1006.5C1358.9 1008.1 1349.0 1008.5 1339.1 1009.5C1329.2 1010.4 1319.3 1011.9 1309.3 1012.4C1299.4 1012.9 1290.5 1013.0 1279.6 1012.4C1268.7 1011.8 1249.8 1012.9 1243.9 1008.9C1237.9 1004.8 1237.9 990.8 1243.9 988.0Z" fill="#00f" fill-opacity="0.400"/><path d="M988.0 940.4C991.9 917.1 1002.8 943.4 1011.8 944.9C1020.7 946.4 1031.6 947.7 1041.5 949.3C1051.4 951.0 1063.3 952.2 1071.3 954.7C1079.2 957.2 1083.2 961.1 1089.1 964.2C1095.1 967.3 1099.0 971.4 1107.0 973.1C1114.9 974.9 1126.8 975.4 1136.7 974.6C1146.7 973.9 1156.6 969.4 1166.5 968.7C1176.4 967.9 1187.3 968.4 1196.3 970.2C1205.2 971.9 1212.1 975.1 1220.1 979.1C1228.0 983.1 1241.4 987.5 1243.9 994.0C1246.3 1000.4 1239.9 1010.8 1234.9 1017.8C1230.0 1024.7 1221.5 1030.7 1214.1 1035.6C1206.7 1040.6 1199.2 1043.8 1190.3 1047.5C1181.4 1051.3 1170.5 1054.5 1160.5 1058.0C1150.6 1061.4 1139.7 1065.2 1130.8 1068.4C1121.9 1071.6 1115.9 1074.8 1107.0 1077.3C1098.1 1079.8 1087.1 1083.3 1077.2 1083.3C1067.3 1083.3 1057.4 1078.1 1047.5 1077.3C1037.5 1076.6 1027.6 1077.6 1017.7 1078.8C1007.8 1080.0 992.9 1107.8 988.0 1084.8C983.0 1061.7 984.0 963.7 988.0 940.4Z" fill="#00f" fill-opacity="0.700"/><path d="M988.0 958.3C994.4 940.4 1015.2 960.0 1026.6 961.2C1038.0 962.5 1046.5 963.5 1056.4 965.7C1066.3 967.9 1076.2 971.2 1086.2 974.6C1096.1 978.1 1106.0 982.6 1115.9 986.5C1125.8 990.5 1138.2 994.2 1145.7 998.4C1153.1 1002.7 1160.0 1006.1 1160.5 1011.8C1161.0 1017.5 1154.6 1026.2 1148.6 1032.7C1142.7 1039.1 1132.8 1045.8 1124.8 1050.5C1116.9 1055.2 1110.0 1058.2 1101.0 1060.9C1092.1 1063.7 1081.2 1066.4 1071.3 1066.9C1061.4 1067.4 1051.4 1064.7 1041.5 1063.9C1031.6 1063.2 1020.7 1061.7 1011.8 1062.4C1002.8 1063.2 991.9 1085.7 988.0 1068.4C984.0 1051.0 981.5 976.1 988.0 958.3Z" fill="#00f" fill-opacity="0.750"/><path d="M1234.9 1020.8C1242.4 1013.3 1254.8 1014.8 1264.7 1014.8C1274.6 1014.8 1284.5 1017.8 1294.5 1020.8C1304.4 1023.7 1321.7 1026.7 1324.2 1032.7C1326.7 1038.6 1316.8 1048.5 1309.3 1056.5C1301.9 1064.4 1289.5 1074.3 1279.6 1080.3C1269.7 1086.2 1258.7 1091.2 1249.8 1092.2C1240.9 1093.2 1231.0 1091.7 1226.0 1086.2C1221.1 1080.8 1218.6 1070.4 1220.1 1059.5C1221.5 1048.5 1227.5 1028.2 1234.9 1020.8Z" fill="#00f" fill-opacity="0.200"/></g><path d="M1353.6 952.9h1.3v1.3h-1.3zM1162.6 910.8h1.3v1.3h-1.3zM1155.7 904.0h1.3v1.3h-1.3zM1167.9 909.1h1.3v1.3h-1.3zM1286.0 917.9h1.3v1.3h-1.3zM1176.8 909.9h1.3v1.3h-1.3zM1285.7 913.5h1.3v1.3h-1.3zM1153.1 917.7h1.3v1.3h-1.3zM1202.8 886.0h1.3v1.3h-1.3zM1203.6 904.9h1.3v1.3h-1.3zM1173.2 908.0h1.3v1.3h-1.3zM1162.8 907.6h1.3v1.3h-1.3zM1172.8 899.5h1.3v1.3h-1.3zM1169.9 906.5h1.3v1.3h-1.3zM1176.3 915.2h1.3v1.3h-1.3zM1192.7 883.2h1.3v1.3h-1.3zM1200.0 893.5h1.3v1.3h-1.3zM1225.8 912.0h1.3v1.3h-1.3zM1160.2 923.8h1.3v1.3h-1.3zM1246.2 903.8h1.3v1.3h-1.3zM1173.0 902.0h1.3v1.3h-1.3zM1200.9 878.3h1.3v1.3h-1.3zM1297.9 938.2h1.3v1.3h-1.3zM1152.0 899.7h1.3v1.3h-1.3zM1206.9 887.7h1.3v1.3h-1.3zM1202.9 890.2h1.3v1.3h-1.3zM1239.4 904.3h1.3v1.3h-1.3zM1160.8 910.7h1.3v1.3h-1.3zM1259.2 911.6h1.3v1.3h-1.3zM1194.6 932.3h1.3v1.3h-1.3zM1134.5 931.9h1.3v1.3h-1.3zM1278.3 912.9h1.3v1.3h-1.3zM1169.1 900.7h1.3v1.3h-1.3zM1179.8 922.4h1.3v1.3h-1.3zM1148.5 902.2h1.3v1.3h-1.3zM1242.5 913.9h1.3v1.3h-1.3zM1132.3 922.4h1.3v1.3h-1.3zM1214.7 883.9h1.3v1.3h-1.3zM1162.4 901.1h1.3v1.3h-1.3zM1243.9 901.8h1.3v1.3h-1.3zM1200.1 889.7h1.3v1.3h-1.3zM1152.2 899.6h1.3v1.3h-1.3zM1176.9 909.0h1.3v1.3h-1.3zM1311.0 921.7h1.3v1.3h-1.3zM1203.3 916.4h1.3v1.3h-1.3zM1231.5 895.3h1.3v1.3h-1.3zM1259.7 919.6h1.3v1.3h-1.3zM1205.0 933.4h1.3v1.3h-1.3zM1241.5 904.7h1.3v1.3h-1.3zM1230.0 915.2h1.3v1.3h-1.3zM1171.6 898.8h1.3v1.3h-1.3zM1214.2 883.9h1.3v1.3h-1.3zM1233.7 922.0h1.3v1.3h-1.3zM1158.6 931.8h1.3v1.3h-1.3zM1207.0 897.4h1.3v1.3h-1.3zM1352.2 929.1h1.3v1.3h-1.3zM1172.6 900.1h1.3v1.3h-1.3zM1211.2 933.3h1.3v1.3h-1.3zM1293.0 927.5h1.3v1.3h-1.3zM1181.8 894.3h1.3v1.3h-1.3zM1129.3 934.9h1.3v1.3h-1.3zM1285.8 918.0h1.3v1.3h-1.3zM1162.5 918.1h1.3v1.3h-1.3zM1147.0 923.4h1.3v1.3h-1.3zM1213.6 905.0h1.3v1.3h-1.3zM1303.9 932.5h1.3v1.3h-1.3zM1133.4 932.7h1.3v1.3h-1.3zM1269.6 922.4h1.3v1.3h-1.3zM1200.5 909.7h1.3v1.3h-1.3zM1193.8 912.1h1.3v1.3h-1.3zM1293.2 947.6h1.3v1.3h-1.3zM1218.4 883.4h1.3v1.3h-1.3zM1172.3 903.9h1.3v1.3h-1.3zM1199.1 903.6h1.3v1.3h-1.3zM1168.9 895.5h1.3v1.3h-1.3zM1308.7 954.2h1.3v1.3h-1.3zM1303.1 953.3h1.3v1.3h-1.3zM1201.1 887.0h1.3v1.3h-1.3zM1289.4 907.3h1.3v1.3h-1.3zM1172.7 886.7h1.3v1.3h-1.3zM1144.2 904.9h1.3v1.3h-1.3zM1286.5 923.9h1.3v1.3h-1.3zM1344.4 932.5h1.3v1.3h-1.3zM1216.1 931.8h1.3v1.3h-1.3zM1185.4 887.5h1.3v1.3h-1.3zM1232.2 920.3h1.3v1.3h-1.3zM1151.8 928.6h1.3v1.3h-1.3zM1212.0 878.4h1.3v1.3h-1.3zM1177.9 896.1h1.3v1.3h-1.3zM1175.4 894.4h1.3v1.3h-1.3zM1213.2 914.3h1.3v1.3h-1.3zM1346.3 940.0h1.3v1.3h-1.3zM1200.9 906.3h1.3v1.3h-1.3zM1168.6 919.8h1.3v1.3h-1.3zM1153.1 918.2h1.3v1.3h-1.3zM1170.1 898.4h1.3v1.3h-1.3zM1310.7 927.8h1.3v1.3h-1.3zM1219.1 937.4h1.3v1.3h-1.3zM1211.4 890.4h1.3v1.3h-1.3zM1193.2 935.8h1.3v1.3h-1.3zM1260.5 916.6h1.3v1.3h-1.3zM1335.6 939.3h1.3v1.3h-1.3zM1348.3 918.9h1.3v1.3h-1.3zM1153.0 924.7h1.3v1.3h-1.3zM1213.2 927.6h1.3v1.3h-1.3zM1160.3 917.7h1.3v1.3h-1.3zM1171.4 893.8h1.3v1.3h-1.3zM1286.0 921.6h1.3v1.3h-1.3zM1171.4 881.2h1.3v1.3h-1.3zM1179.3 893.5h1.3v1.3h-1.3zM1175.7 893.4h1.3v1.3h-1.3zM1286.1 918.0h1.3v1.3h-1.3zM1170.7 907.6h1.3v1.3h-1.3zM1199.6 891.1h1.3v1.3h-1.3zM1168.6 898.4h1.3v1.3h-1.3zM1126.4 927.8h1.3v1.3h-1.3zM1302.1 955.3h1.3v1.3h-1.3zM1211.2 883.1h1.3v1.3h-1.3zM1195.6 877.6h1.3v1.3h-1.3zM1162.9 910.3h1.3v1.3h-1.3zM1205.2 904.3h1.3v1.3h-1.3zM1123.3 933.4h1.3v1.3h-1.3zM1174.9 906.6h1.3v1.3h-1.3zM1274.8 912.4h1.3v1.3h-1.3zM1199.7 935.9h1.3v1.3h-1.3zM1168.3 903.6h1.3v1.3h-1.3zM1289.8 938.2h1.3v1.3h-1.3zM1308.7 947.6h1.3v1.3h-1.3zM1234.0 909.2h1.3v1.3h-1.3zM1329.2 940.4h1.3v1.3h-1.3zM1178.3 923.8h1.3v1.3h-1.3zM1319.1 907.9h1.3v1.3h-1.3zM1188.5 906.6h1.3v1.3h-1.3zM1283.1 915.9h1.3v1.3h-1.3zM1201.9 882.7h1.3v1.3h-1.3zM1144.3 914.0h1.3v1.3h-1.3zM1212.8 938.5h1.3v1.3h-1.3zM1328.6 926.4h1.3v1.3h-1.3zM1202.3 875.5h1.3v1.3h-1.3zM1345.5 942.4h1.3v1.3h-1.3zM1191.6 934.4h1.3v1.3h-1.3zM1300.2 955.0h1.3v1.3h-1.3zM1170.6 908.8h1.3v1.3h-1.3zM1323.7 948.4h1.3v1.3h-1.3zM1177.9 888.5h1.3v1.3h-1.3zM1324.4 910.6h1.3v1.3h-1.3zM1282.6 932.4h1.3v1.3h-1.3zM1342.1 955.1h1.3v1.3h-1.3zM1195.5 907.3h1.3v1.3h-1.3zM1205.7 915.6h1.3v1.3h-1.3zM1354.2 1091.1h1.3v1.3h-1.3zM1278.7 1093.9h1.3v1.3h-1.3zM1290.6 1094.4h1.3v1.3h-1.3zM1279.8 1093.0h1.3v1.3h-1.3zM1252.7 1162.7h1.3v1.3h-1.3zM1329.4 1112.8h1.3v1.3h-1.3zM1284.3 1088.7h1.3v1.3h-1.3zM1277.8 1085.8h1.3v1.3h-1.3zM1318.1 1112.0h1.3v1.3h-1.3zM1239.0 1092.2h1.3v1.3h-1.3zM1326.1 1115.6h1.3v1.3h-1.3zM1264.1 1153.8h1.3v1.3h-1.3zM1256.9 1133.8h1.3v1.3h-1.3zM1292.9 1097.0h1.3v1.3h-1.3zM1273.2 1102.8h1.3v1.3h-1.3zM1259.1 1096.9h1.3v1.3h-1.3zM1250.1 1133.5h1.3v1.3h-1.3zM1297.4 1141.5h1.3v1.3h-1.3zM1295.1 1153.0h1.3v1.3h-1.3zM1314.6 1123.0h1.3v1.3h-1.3zM1274.5 1105.0h1.3v1.3h-1.3zM1326.8 1119.9h1.3v1.3h-1.3zM1314.6 1091.7h1.3v1.3h-1.3zM1336.6 1084.1h1.3v1.3h-1.3zM1253.9 1110.6h1.3v1.3h-1.3zM1237.7 1121.7h1.3v1.3h-1.3zM1274.8 1083.3h1.3v1.3h-1.3zM1306.5 1141.5h1.3v1.3h-1.3zM1286.9 1101.1h1.3v1.3h-1.3zM1265.1 1098.4h1.3v1.3h-1.3zM1264.2 1153.1h1.3v1.3h-1.3zM1246.0 1085.2h1.3v1.3h-1.3zM1277.9 1119.7h1.3v1.3h-1.3zM1279.8 1118.6h1.3v1.3h-1.3zM1330.2 1079.0h1.3v1.3h-1.3zM1292.1 1126.5h1.3v1.3h-1.3zM1295.6 1156.6h1.3v1.3h-1.3zM1278.7 1108.7h1.3v1.3h-1.3zM1294.7 1088.7h1.3v1.3h-1.3zM1292.2 1124.5h1.3v1.3h-1.3zM1240.6 1117.5h1.3v1.3h-1.3zM1298.3 1122.8h1.3v1.3h-1.3zM1276.7 1106.5h1.3v1.3h-1.3zM1256.5 1150.4h1.3v1.3h-1.3zM1294.7 1086.2h1.3v1.3h-1.3zM1321.8 1096.7h1.3v1.3h-1.3zM1281.5 1150.6h1.3v1.3h-1.3zM1341.2 1120.4h1.3v1.3h-1.3zM1252.0 1123.6h1.3v1.3h-1.3zM1272.4 1121.6h1.3v1.3h-1.3zM1319.5 1114.1h1.3v1.3h-1.3zM1316.4 1136.3h1.3v1.3h-1.3zM1247.6 1092.9h1.3v1.3h-1.3zM1311.5 1121.2h1.3v1.3h-1.3zM1294.5 1123.5h1.3v1.3h-1.3zM1296.2 1126.9h1.3v1.3h-1.3zM1262.3 1111.4h1.3v1.3h-1.3zM1250.9 1083.7h1.3v1.3h-1.3zM1308.1 1087.4h1.3v1.3h-1.3zM1244.3 1084.8h1.3v1.3h-1.3zM1316.7 1132.7h1.3v1.3h-1.3zM1255.2 1157.1h1.3v1.3h-1.3zM1291.0 1131.7h1.3v1.3h-1.3zM1323.4 1113.2h1.3v1.3h-1.3zM1274.5 1099.3h1.3v1.3h-1.3zM1291.5 1127.9h1.3v1.3h-1.3zM1272.1 1156.6h1.3v1.3h-1.3zM1348.9 1104.8h1.3v1.3h-1.3zM1337.4 1106.9h1.3v1.3h-1.3zM1259.5 1126.6h1.3v1.3h-1.3zM1129.6 1132.3h1.3v1.3h-1.3zM1124.7 1130.5h1.3v1.3h-1.3zM1118.3 1135.1h1.3v1.3h-1.3zM1121.6 1131.8h1.3v1.3h-1.3zM1069.8 1135.6h1.3v1.3h-1.3zM1071.6 1138.5h1.3v1.3h-1.3zM1117.7 1135.2h1.3v1.3h-1.3zM1012.0 1133.7h1.3v1.3h-1.3zM1185.5 1138.5h1.3v1.3h-1.3zM1122.5 1134.2h1.3v1.3h-1.3zM1054.5 1136.3h1.3v1.3h-1.3zM1122.2 1131.2h1.3v1.3h-1.3zM1062.2 1128.2h1.3v1.3h-1.3zM1018.2 1129.4h1.3v1.3h-1.3zM1106.5 1129.1h1.3v1.3h-1.3zM1113.3 1134.3h1.3v1.3h-1.3zM1046.4 1131.3h1.3v1.3h-1.3zM1089.8 1138.2h1.3v1.3h-1.3zM1064.2 1133.6h1.3v1.3h-1.3zM1046.3 1138.7h1.3v1.3h-1.3zM1131.6 1136.8h1.3v1.3h-1.3zM1006.5 1125.5h1.3v1.3h-1.3zM1081.4 1138.4h1.3v1.3h-1.3zM1110.1 1129.1h1.3v1.3h-1.3zM1002.3 1124.5h1.3v1.3h-1.3zM1011.3 921.9h1.3v1.3h-1.3zM1009.1 914.3h1.3v1.3h-1.3zM1008.3 915.0h1.3v1.3h-1.3zM1025.3 907.4h1.3v1.3h-1.3zM1011.2 914.0h1.3v1.3h-1.3zM1018.5 910.0h1.3v1.3h-1.3zM1083.1 915.3h1.3v1.3h-1.3zM1003.7 915.6h1.3v1.3h-1.3zM1009.4 922.1h1.3v1.3h-1.3zM1010.8 916.2h1.3v1.3h-1.3zM1077.4 908.2h1.3v1.3h-1.3zM1013.2 917.7h1.3v1.3h-1.3z" fill="#1a1aff"/></g><path d="M983.0 866.7v6.0M983.0 1168.6v-6.0M1000.5 866.7v3.5M1000.5 1168.6v-3.5M1018.0 866.7v3.5M1018.0 1168.6v-3.5M1035.5 866.7v3.5M1035.5 1168.6v-3.5M1053.0 866.7v3.5M1053.0 1168.6v-3.5M1070.5 866.7v3.5M1070.5 1168.6v-3.5M1088.0 866.7v3.5M1088.0 1168.6v-3.5M1105.5 866.7v6.0M1105.5 1168.6v-6.0M1123.0 866.7v3.5M1123.0 1168.6v-3.5M1140.5 866.7v3.5M1140.5 1168.6v-3.5M1158.0 866.7v3.5M1158.0 1168.6v-3.5M1175.5 866.7v3.5M1175.5 1168.6v-3.5M1193.0 866.7v3.5M1193.0 1168.6v-3.5M1210.5 866.7v3.5M1210.5 1168.6v-3.5M1228.0 866.7v6.0M1228.0 1168.6v-6.0M1245.5 866.7v3.5M1245.5 1168.6v-3.5M1263.0 866.7v3.5M1263.0 1168.6v-3.5M1280.5 866.7v3.5M1280.5 1168.6v-3.5M1298.0 866.7v3.5M1298.0 1168.6v-3.5M1315.5 866.7v3.5M1315.5 1168.6v-3.5M1333.0 866.7v3.5M1333.0 1168.6v-3.5M1350.5 866.7v6.0M1350.5 1168.6v-6.0M1368.0 866.7v3.5M1368.0 1168.6v-3.5M1385.5 866.7v3.5M1385.5 1168.6v-3.5M1403.0 866.7v3.5M1403.0 1168.6v-3.5M983.0 1153.5h3.5M1410.9 1153.5h-3.5M983.0 1138.4h6.0M1410.9 1138.4h-6.0M983.0 1123.3h3.5M1410.9 1123.3h-3.5M983.0 1108.2h3.5M1410.9 1108.2h-3.5M983.0 1093.1h3.5M1410.9 1093.1h-3.5M983.0 1078.0h6.0M1410.9 1078.0h-6.0M983.0 1062.9h3.5M1410.9 1062.9h-3.5M983.0 1047.8h3.5M1410.9 1047.8h-3.5M983.0 1032.7h3.5M1410.9 1032.7h-3.5M983.0 1017.6h6.0M1410.9 1017.6h-6.0M983.0 1002.6h3.5M1410.9 1002.6h-3.5M983.0 987.5h3.5M1410.9 987.5h-3.5M983.0 972.4h3.5M1410.9 972.4h-3.5M983.0 957.3h6.0M1410.9 957.3h-6.0M983.0 942.2h3.5M1410.9 942.2h-3.5M983.0 927.1h3.5M1410.9 927.1h-3.5M983.0 912.0h3.5M1410.9 912.0h-3.5M983.0 896.9h6.0M1410.9 896.9h-6.0M983.0 881.8h3.5M1410.9 881.8h-3.5" stroke="#111" stroke-width="1.1" fill="none"/><rect x="983.0" y="866.7" width="427.9" height="301.9" fill="none" stroke="#0a0a0a" stroke-width="2.2"/><text x="983.0" y="1194.1" text-anchor="middle" style="font-family:'Liberation Sans',sans-serif;font-size:24px">0</text><text x="1105.5" y="1194.1" text-anchor="middle" style="font-family:'Liberation Sans',sans-serif;font-size:24px">700</text><text x="1228.0" y="1194.1" text-anchor="middle" style="font-family:'Liberation Sans',sans-serif;font-size:24px">1400</text><text x="1350.5" y="1194.1" text-anchor="middle" style="font-family:'Liberation Sans',sans-serif;font-size:24px">2100</text><text x="1197.2" y="1220.4" text-anchor="middle" style="font-family:'Liberation Sans',sans-serif;font-size:25px;letter-spacing:0.4px">Elevation (m)</text><text x="1405.6" y="890.1" text-anchor="end" style="font-family:'Liberation Sans',sans-serif;font-size:24px">Z−LOS residual</text><path d="M543.4 1321.1H972.2M543.4 1441.5H972.2M543.4 1501.7H972.2M543.4 1561.9H972.2M665.9 1291.0V1592.0M788.4 1291.0V1592.0M910.9 1291.0V1592.0" stroke="#7a7a7a" stroke-width="0.9" stroke-dasharray="2.2 1.8" fill="none"/><g clip-path="url(#pci)"><g filter="url(#sti)"><path d="M549.0 1516.2L572.8 1514.7L587.9 1519.2L572.8 1525.1L549.0 1532.6Z" fill="#00f" fill-opacity="0.250"/><path d="M548.3 1430.3L573.0 1433.3L618.1 1438.5L633.1 1440.8L663.1 1440.0L678.2 1438.5L693.2 1434.8L708.2 1429.5L723.2 1424.3L740.0 1414.8L764.9 1399.9L788.6 1386.2L808.5 1376.8L851.1 1365.5L888.9 1358.9L907.8 1357.4L926.7 1358.9L960.7 1360.4L965.9 1361.0L965.9 1362.5L960.7 1362.3L926.7 1363.0L907.8 1364.2L888.9 1366.5L851.1 1374.0L830.0 1379.3L808.5 1391.1L788.6 1397.4L770.6 1407.6L755.8 1418.0L748.3 1427.5L740.0 1436.6L723.2 1452.0L708.2 1462.6L693.2 1471.6L678.2 1477.6L663.1 1486.6L648.1 1494.1L633.1 1501.6L618.1 1507.6L603.1 1512.1L588.0 1515.1L573.0 1516.6L558.0 1518.1L549.0 1519.6Z" fill="#00f" fill-opacity="1.000"/><path d="M751.9 1425.4L770.9 1414.7L788.5 1404.3L808.7 1391.5L809.9 1393.0L802.2 1397.0L788.6 1404.9L771.1 1415.4L751.9 1429.3Z" fill="#00f" fill-opacity="1.000"/><path d="M544.5 1379.9L549.5 1379.9L549.5 1382.3L544.5 1382.3Z" fill="#00f" fill-opacity="0.900"/></g><path d="M560.9 1456.7C567.8 1457.4 589.1 1459.9 602.5 1461.1C615.9 1462.4 629.8 1463.4 641.2 1464.1C652.6 1464.9 661.5 1466.3 671.0 1465.6C680.4 1464.9 693.3 1460.6 697.7 1459.6" fill="none" stroke="#fff" stroke-width="0.9" stroke-opacity="0.5"/><path d="M566.8 1471.5C572.8 1472.5 591.6 1475.5 602.5 1477.5C613.4 1479.5 623.3 1482.0 632.3 1483.5C641.2 1484.9 652.1 1485.9 656.1 1486.4" fill="none" stroke="#fff" stroke-width="0.9" stroke-opacity="0.5"/><path d="M554.9 1480.5C558.9 1481.2 569.8 1483.9 578.7 1484.9C587.6 1485.9 603.5 1486.2 608.5 1486.4" fill="none" stroke="#fff" stroke-width="0.9" stroke-opacity="0.5"/><path d="M626.3 1461.1C632.3 1461.4 652.1 1463.4 662.0 1462.6C671.9 1461.9 681.9 1457.7 685.8 1456.7" fill="none" stroke="#fff" stroke-width="0.9" stroke-opacity="0.5"/><path d="M560.9 1498.3C565.8 1499.1 580.7 1502.5 590.6 1502.8C600.5 1503.0 615.4 1500.3 620.4 1499.8" fill="none" stroke="#fff" stroke-width="0.9" stroke-opacity="0.5"/><path d="M668.0 1444.8C672.9 1444.3 688.8 1443.3 697.7 1441.8C706.7 1440.3 717.6 1436.8 721.5 1435.8" fill="none" stroke="#fff" stroke-width="0.9" stroke-opacity="0.5"/></g><path d="M543.4 1291.0v6.0M543.4 1592.0v-6.0M560.9 1291.0v3.5M560.9 1592.0v-3.5M578.4 1291.0v3.5M578.4 1592.0v-3.5M595.9 1291.0v3.5M595.9 1592.0v-3.5M613.4 1291.0v3.5M613.4 1592.0v-3.5M630.9 1291.0v3.5M630.9 1592.0v-3.5M648.4 1291.0v3.5M648.4 1592.0v-3.5M665.9 1291.0v6.0M665.9 1592.0v-6.0M683.4 1291.0v3.5M683.4 1592.0v-3.5M700.9 1291.0v3.5M700.9 1592.0v-3.5M718.4 1291.0v3.5M718.4 1592.0v-3.5M735.9 1291.0v3.5M735.9 1592.0v-3.5M753.4 1291.0v3.5M753.4 1592.0v-3.5M770.9 1291.0v3.5M770.9 1592.0v-3.5M788.4 1291.0v6.0M788.4 1592.0v-6.0M805.9 1291.0v3.5M805.9 1592.0v-3.5M823.4 1291.0v3.5M823.4 1592.0v-3.5M840.9 1291.0v3.5M840.9 1592.0v-3.5M858.4 1291.0v3.5M858.4 1592.0v-3.5M875.9 1291.0v3.5M875.9 1592.0v-3.5M893.4 1291.0v3.5M893.4 1592.0v-3.5M910.9 1291.0v6.0M910.9 1592.0v-6.0M928.4 1291.0v3.5M928.4 1592.0v-3.5M945.9 1291.0v3.5M945.9 1592.0v-3.5M963.4 1291.0v3.5M963.4 1592.0v-3.5M543.4 1577.0h3.5M972.2 1577.0h-3.5M543.4 1561.9h6.0M972.2 1561.9h-6.0M543.4 1546.8h3.5M972.2 1546.8h-3.5M543.4 1531.8h3.5M972.2 1531.8h-3.5M543.4 1516.8h3.5M972.2 1516.8h-3.5M543.4 1501.7h6.0M972.2 1501.7h-6.0M543.4 1486.7h3.5M972.2 1486.7h-3.5M543.4 1471.6h3.5M972.2 1471.6h-3.5M543.4 1456.5h3.5M972.2 1456.5h-3.5M543.4 1441.5h6.0M972.2 1441.5h-6.0M543.4 1426.5h3.5M972.2 1426.5h-3.5M543.4 1411.4h3.5M972.2 1411.4h-3.5M543.4 1396.3h3.5M972.2 1396.3h-3.5M543.4 1381.3h6.0M972.2 1381.3h-6.0M543.4 1366.2h3.5M972.2 1366.2h-3.5M543.4 1351.2h3.5M972.2 1351.2h-3.5M543.4 1336.2h3.5M972.2 1336.2h-3.5M543.4 1321.1h6.0M972.2 1321.1h-6.0M543.4 1306.0h3.5M972.2 1306.0h-3.5" stroke="#111" stroke-width="1.1" fill="none"/><rect x="543.4" y="1291.0" width="428.8" height="301.0" fill="none" stroke="#0a0a0a" stroke-width="2.2"/><text x="543.4" y="1617.5" text-anchor="middle" style="font-family:'Liberation Sans',sans-serif;font-size:24px">0</text><text x="665.9" y="1617.5" text-anchor="middle" style="font-family:'Liberation Sans',sans-serif;font-size:24px">700</text><text x="788.4" y="1617.5" text-anchor="middle" style="font-family:'Liberation Sans',sans-serif;font-size:24px">1400</text><text x="910.9" y="1617.5" text-anchor="middle" style="font-family:'Liberation Sans',sans-serif;font-size:24px">2100</text><text x="758.0" y="1643.8" text-anchor="middle" style="font-family:'Liberation Sans',sans-serif;font-size:25px;letter-spacing:0.4px">Elevation (m)</text><text x="966.9" y="1314.4" text-anchor="end" style="font-family:'Liberation Sans',sans-serif;font-size:24px">D−LOS prediction</text><path d="M984.3 1321.1H1412.4M984.3 1441.5H1412.4M984.3 1501.7H1412.4M984.3 1561.9H1412.4M1106.8 1291.0V1592.0M1229.3 1291.0V1592.0M1351.8 1291.0V1592.0" stroke="#7a7a7a" stroke-width="0.9" stroke-dasharray="2.2 1.8" fill="none"/><g clip-path="url(#pcj)"><g filter="url(#stj)"><path d="M989.4 1348.0C990.9 1320.3 994.8 1346.1 998.9 1348.0C1002.9 1350.0 1006.3 1357.0 1013.8 1359.9C1021.2 1362.9 1033.6 1363.2 1043.5 1365.9C1053.4 1368.6 1063.4 1372.6 1073.3 1376.3C1083.2 1380.0 1093.1 1387.2 1103.0 1388.2C1112.9 1389.2 1122.9 1383.5 1132.8 1382.3C1142.7 1381.0 1152.6 1379.5 1162.5 1380.8C1172.5 1382.0 1182.4 1387.2 1192.3 1389.7C1202.2 1392.2 1212.1 1394.2 1222.1 1395.7C1232.0 1397.1 1241.9 1398.6 1251.8 1398.6C1261.7 1398.6 1271.7 1396.2 1281.6 1395.7C1291.5 1395.2 1301.4 1395.7 1311.3 1395.7C1321.3 1395.7 1331.2 1395.2 1341.1 1395.7C1351.0 1396.2 1359.9 1397.1 1370.8 1398.6C1381.8 1400.1 1401.6 1400.6 1406.6 1404.6C1411.5 1408.6 1406.6 1418.5 1400.6 1422.4C1394.7 1426.4 1380.8 1426.7 1370.8 1428.4C1360.9 1430.1 1347.0 1428.1 1341.1 1432.9C1335.1 1437.6 1340.1 1448.7 1335.1 1456.7C1330.2 1464.6 1320.3 1474.5 1311.3 1480.5C1302.4 1486.4 1291.5 1490.1 1281.6 1492.4C1271.7 1494.6 1261.7 1492.9 1251.8 1493.9C1241.9 1494.9 1232.0 1496.6 1222.1 1498.3C1212.1 1500.1 1197.8 1499.1 1192.3 1504.3C1186.8 1509.5 1194.3 1525.4 1189.3 1529.6C1184.4 1533.8 1172.0 1530.1 1162.5 1529.6C1153.1 1529.1 1142.7 1528.1 1132.8 1526.6C1122.9 1525.1 1112.9 1522.9 1103.0 1520.7C1093.1 1518.4 1083.2 1515.0 1073.3 1513.2C1063.4 1511.5 1053.4 1510.5 1043.5 1510.2C1033.6 1510.0 1022.8 1511.0 1013.8 1511.7C1004.7 1512.5 993.4 1542.0 989.4 1514.7C985.3 1487.4 987.8 1375.8 989.4 1348.0Z" fill="#00f" fill-opacity="0.250"/><path d="M1109.0 1435.8C1116.4 1424.4 1133.8 1440.5 1147.7 1441.8C1161.6 1443.0 1177.4 1444.0 1192.3 1443.3C1207.2 1442.5 1222.1 1439.6 1236.9 1437.3C1251.8 1435.1 1269.2 1431.1 1281.6 1429.9C1294.0 1428.6 1302.4 1429.4 1311.3 1429.9C1320.3 1430.4 1332.7 1428.4 1335.1 1432.9C1337.6 1437.3 1331.2 1449.7 1326.2 1456.7C1321.3 1463.6 1312.8 1470.1 1305.4 1474.5C1297.9 1479.0 1290.5 1481.7 1281.6 1483.5C1272.6 1485.2 1261.7 1483.8 1251.8 1484.9C1241.9 1486.0 1232.0 1487.8 1222.1 1490.0C1212.1 1492.2 1199.7 1494.0 1192.3 1498.3C1184.9 1502.7 1182.4 1511.7 1177.4 1516.2C1172.5 1520.7 1169.0 1524.1 1162.5 1525.1C1156.1 1526.1 1146.2 1523.1 1138.7 1522.1C1131.3 1521.2 1123.9 1521.2 1117.9 1519.2C1112.0 1517.2 1104.5 1524.1 1103.0 1510.2C1101.5 1496.3 1101.5 1447.2 1109.0 1435.8Z" fill="#00f" fill-opacity="0.500"/><path d="M989.4 1376.3C993.4 1354.2 1004.7 1377.8 1013.8 1379.3C1022.8 1380.8 1033.6 1383.0 1043.5 1385.2C1053.4 1387.5 1063.4 1390.0 1073.3 1392.7C1083.2 1395.4 1095.6 1397.9 1103.0 1401.6C1110.5 1405.3 1113.9 1408.8 1117.9 1415.0C1121.9 1421.2 1125.8 1429.9 1126.8 1438.8C1127.8 1447.7 1125.8 1459.6 1123.9 1468.6C1121.9 1477.5 1120.9 1487.2 1114.9 1492.4C1109.0 1497.6 1097.6 1498.6 1088.2 1499.8C1078.7 1501.1 1068.3 1499.3 1058.4 1499.8C1048.5 1500.3 1036.1 1501.8 1028.6 1502.8C1021.2 1503.8 1020.3 1504.3 1013.8 1505.8C1007.2 1507.3 993.4 1533.3 989.4 1511.7C985.3 1490.1 985.3 1398.4 989.4 1376.3Z" fill="#00f" fill-opacity="0.700"/><path d="M989.4 1379.3C993.4 1357.6 1008.2 1371.8 1013.8 1380.8C1019.3 1389.7 1017.7 1423.9 1022.7 1432.9C1027.6 1441.8 1035.1 1433.4 1043.5 1434.3C1051.9 1435.3 1064.8 1436.8 1073.3 1438.8C1081.7 1440.8 1088.6 1443.0 1094.1 1446.2C1099.6 1449.5 1103.5 1452.9 1106.0 1458.2C1108.5 1463.4 1110.0 1471.8 1109.0 1477.5C1108.0 1483.2 1104.5 1488.9 1100.1 1492.4C1095.6 1495.9 1089.1 1497.2 1082.2 1498.3C1075.3 1499.4 1067.3 1498.3 1058.4 1498.9C1049.5 1499.5 1036.1 1500.9 1028.6 1501.9C1021.2 1502.9 1020.3 1503.4 1013.8 1504.9C1007.2 1506.4 993.4 1531.8 989.4 1510.8C985.3 1489.9 985.3 1401.0 989.4 1379.3Z" fill="#00f" fill-opacity="0.850"/><path d="M1073.3 1438.8C1078.2 1434.3 1094.6 1439.8 1103.0 1441.8C1111.5 1443.8 1117.9 1446.2 1123.9 1450.7C1129.8 1455.2 1137.3 1462.1 1138.7 1468.6C1140.2 1475.0 1137.3 1484.4 1132.8 1489.4C1128.3 1494.4 1119.4 1496.3 1112.0 1498.3C1104.5 1500.3 1094.6 1506.3 1088.2 1501.3C1081.7 1496.3 1075.8 1479.0 1073.3 1468.6C1070.8 1458.2 1068.3 1443.3 1073.3 1438.8Z" fill="#00f" fill-opacity="0.350"/><path d="M989.4 1379.3C993.4 1374.6 1004.7 1379.5 1013.8 1380.8C1022.8 1382.0 1033.6 1384.5 1043.5 1386.7C1053.4 1389.0 1063.4 1391.8 1073.3 1394.2C1083.2 1396.5 1093.1 1400.0 1103.0 1400.7C1112.9 1401.5 1122.9 1399.0 1132.8 1398.6C1142.7 1398.3 1152.6 1397.6 1162.5 1398.6C1172.5 1399.6 1182.4 1402.8 1192.3 1404.6C1202.2 1406.3 1213.1 1407.3 1222.1 1409.0C1231.0 1410.8 1241.9 1412.0 1245.9 1415.0C1249.8 1418.0 1248.8 1424.5 1245.9 1426.9C1242.9 1429.3 1235.9 1429.2 1228.0 1429.3C1220.1 1429.4 1209.2 1428.6 1198.3 1427.5C1187.3 1426.4 1173.5 1423.3 1162.5 1422.4C1151.6 1421.6 1142.7 1421.7 1132.8 1422.4C1122.9 1423.2 1112.9 1427.2 1103.0 1426.9C1093.1 1426.7 1083.2 1422.9 1073.3 1421.0C1063.4 1419.0 1053.4 1417.0 1043.5 1415.0C1033.6 1413.0 1022.8 1410.0 1013.8 1409.0C1004.7 1408.1 993.4 1414.0 989.4 1409.0C985.3 1404.1 985.3 1384.0 989.4 1379.3Z" fill="#00f" fill-opacity="0.900"/><path d="M1239.9 1410.5C1244.4 1407.5 1257.3 1409.1 1266.7 1408.5C1276.1 1407.8 1286.5 1407.0 1296.5 1406.7C1306.4 1406.4 1316.3 1406.6 1326.2 1406.7C1336.1 1406.7 1346.0 1406.7 1356.0 1407.0C1365.9 1407.3 1377.3 1407.9 1385.7 1408.5C1394.2 1409.0 1403.1 1409.7 1406.6 1410.5C1410.0 1411.4 1412.5 1412.2 1406.6 1413.5C1400.6 1414.9 1381.8 1417.2 1370.8 1418.6C1359.9 1419.9 1351.0 1420.9 1341.1 1421.5C1331.2 1422.2 1321.3 1422.1 1311.3 1422.4C1301.4 1422.7 1291.5 1422.3 1281.6 1423.3C1271.7 1424.3 1258.8 1427.8 1251.8 1428.4C1244.9 1429.0 1241.9 1429.9 1239.9 1426.9C1237.9 1423.9 1235.5 1413.6 1239.9 1410.5Z" fill="#00f" fill-opacity="0.650"/></g><path d="M1283.0 1361.0h1.3v1.3h-1.3zM1269.4 1323.0h1.3v1.3h-1.3zM1287.7 1338.6h1.3v1.3h-1.3zM1278.9 1366.0h1.3v1.3h-1.3zM1278.9 1372.4h1.3v1.3h-1.3zM1263.0 1323.6h1.3v1.3h-1.3zM1284.6 1359.6h1.3v1.3h-1.3zM1310.3 1342.3h1.3v1.3h-1.3zM1266.3 1350.2h1.3v1.3h-1.3zM1288.5 1334.1h1.3v1.3h-1.3zM1274.6 1354.2h1.3v1.3h-1.3zM1290.4 1358.1h1.3v1.3h-1.3zM1276.5 1318.2h1.3v1.3h-1.3zM1263.8 1326.0h1.3v1.3h-1.3zM1279.8 1354.3h1.3v1.3h-1.3zM1265.9 1332.9h1.3v1.3h-1.3zM1280.3 1372.1h1.3v1.3h-1.3zM1261.3 1330.5h1.3v1.3h-1.3zM1269.9 1346.1h1.3v1.3h-1.3zM1266.9 1354.8h1.3v1.3h-1.3zM1278.0 1323.1h1.3v1.3h-1.3zM1298.9 1334.3h1.3v1.3h-1.3zM1290.9 1356.0h1.3v1.3h-1.3zM1278.5 1355.0h1.3v1.3h-1.3zM1307.9 1338.8h1.3v1.3h-1.3zM1251.4 1374.2h1.3v1.3h-1.3zM1282.7 1330.9h1.3v1.3h-1.3zM1238.8 1370.5h1.3v1.3h-1.3zM1276.5 1351.7h1.3v1.3h-1.3zM1273.7 1322.9h1.3v1.3h-1.3zM1268.8 1359.6h1.3v1.3h-1.3zM1259.1 1329.8h1.3v1.3h-1.3zM1264.9 1331.4h1.3v1.3h-1.3zM1280.3 1323.7h1.3v1.3h-1.3zM1272.4 1343.4h1.3v1.3h-1.3zM1277.3 1327.4h1.3v1.3h-1.3zM1235.4 1367.7h1.3v1.3h-1.3zM1260.8 1324.1h1.3v1.3h-1.3zM1268.4 1354.4h1.3v1.3h-1.3zM1268.8 1324.0h1.3v1.3h-1.3zM1284.6 1327.7h1.3v1.3h-1.3zM1319.2 1348.5h1.3v1.3h-1.3zM1244.8 1372.9h1.3v1.3h-1.3zM1303.7 1337.3h1.3v1.3h-1.3zM1278.8 1340.1h1.3v1.3h-1.3zM1263.3 1327.3h1.3v1.3h-1.3zM1280.7 1326.8h1.3v1.3h-1.3zM1282.3 1365.2h1.3v1.3h-1.3zM1268.2 1336.9h1.3v1.3h-1.3zM1294.0 1356.9h1.3v1.3h-1.3zM1261.5 1325.4h1.3v1.3h-1.3zM1289.7 1334.2h1.3v1.3h-1.3zM1304.0 1335.9h1.3v1.3h-1.3zM1275.3 1372.2h1.3v1.3h-1.3zM1263.9 1323.1h1.3v1.3h-1.3zM1260.8 1558.0h1.3v1.3h-1.3zM1241.4 1506.8h1.3v1.3h-1.3zM1240.3 1503.5h1.3v1.3h-1.3zM1273.9 1549.4h1.3v1.3h-1.3zM1335.7 1501.3h1.3v1.3h-1.3zM1260.5 1562.8h1.3v1.3h-1.3zM1274.0 1548.9h1.3v1.3h-1.3zM1245.2 1504.8h1.3v1.3h-1.3zM1255.3 1561.5h1.3v1.3h-1.3zM1330.7 1511.2h1.3v1.3h-1.3zM1247.6 1505.1h1.3v1.3h-1.3zM1268.5 1505.4h1.3v1.3h-1.3zM1272.0 1539.8h1.3v1.3h-1.3zM1299.8 1505.0h1.3v1.3h-1.3zM1328.9 1508.8h1.3v1.3h-1.3zM1300.6 1503.2h1.3v1.3h-1.3zM1253.9 1517.9h1.3v1.3h-1.3zM1273.3 1535.3h1.3v1.3h-1.3zM1255.5 1561.2h1.3v1.3h-1.3zM1257.1 1503.1h1.3v1.3h-1.3zM1252.4 1547.1h1.3v1.3h-1.3zM1252.1 1562.6h1.3v1.3h-1.3zM1254.7 1565.9h1.3v1.3h-1.3zM1287.3 1535.4h1.3v1.3h-1.3zM1266.6 1541.0h1.3v1.3h-1.3zM1262.7 1564.4h1.3v1.3h-1.3zM1262.7 1545.1h1.3v1.3h-1.3zM1335.7 1510.2h1.3v1.3h-1.3zM1241.4 1506.6h1.3v1.3h-1.3zM1263.8 1525.9h1.3v1.3h-1.3zM1244.7 1499.6h1.3v1.3h-1.3zM1337.8 1512.5h1.3v1.3h-1.3zM1255.2 1564.1h1.3v1.3h-1.3zM1329.0 1523.3h1.3v1.3h-1.3zM1272.6 1539.1h1.3v1.3h-1.3zM1344.8 1515.1h1.3v1.3h-1.3zM1336.0 1505.2h1.3v1.3h-1.3zM1337.9 1502.2h1.3v1.3h-1.3zM1338.6 1502.5h1.3v1.3h-1.3zM1243.3 1503.7h1.3v1.3h-1.3zM1256.7 1565.1h1.3v1.3h-1.3zM1267.9 1556.8h1.3v1.3h-1.3zM1328.3 1517.3h1.3v1.3h-1.3zM1289.5 1549.5h1.3v1.3h-1.3zM1332.4 1535.9h1.3v1.3h-1.3zM1275.7 1539.6h1.3v1.3h-1.3zM1321.9 1524.8h1.3v1.3h-1.3zM1283.9 1558.2h1.3v1.3h-1.3zM1254.6 1572.7h1.3v1.3h-1.3zM1248.1 1519.9h1.3v1.3h-1.3zM1261.4 1533.6h1.3v1.3h-1.3zM1261.0 1565.8h1.3v1.3h-1.3zM1254.2 1563.1h1.3v1.3h-1.3zM1354.2 1504.0h1.3v1.3h-1.3zM1272.5 1514.2h1.3v1.3h-1.3zM1292.5 1549.7h1.3v1.3h-1.3zM1244.2 1504.0h1.3v1.3h-1.3zM1259.8 1580.8h1.3v1.3h-1.3zM1320.7 1528.6h1.3v1.3h-1.3zM1309.9 1556.5h1.3v1.3h-1.3zM1267.4 1517.0h1.3v1.3h-1.3zM1337.3 1508.5h1.3v1.3h-1.3zM1256.6 1515.4h1.3v1.3h-1.3zM1334.9 1504.4h1.3v1.3h-1.3zM1271.0 1551.9h1.3v1.3h-1.3zM1265.2 1544.5h1.3v1.3h-1.3zM1296.7 1555.3h1.3v1.3h-1.3zM1338.8 1525.0h1.3v1.3h-1.3zM1331.6 1524.4h1.3v1.3h-1.3zM1244.7 1500.4h1.3v1.3h-1.3zM1274.8 1536.1h1.3v1.3h-1.3zM1254.6 1578.6h1.3v1.3h-1.3zM1265.5 1582.8h1.3v1.3h-1.3zM1243.9 1526.1h1.3v1.3h-1.3zM1334.9 1505.3h1.3v1.3h-1.3zM1290.9 1562.2h1.3v1.3h-1.3zM1303.1 1519.9h1.3v1.3h-1.3zM1255.7 1559.8h1.3v1.3h-1.3zM1285.9 1545.0h1.3v1.3h-1.3zM1277.7 1536.4h1.3v1.3h-1.3zM1334.1 1505.7h1.3v1.3h-1.3zM1265.5 1545.4h1.3v1.3h-1.3zM1270.9 1523.5h1.3v1.3h-1.3zM1262.9 1557.3h1.3v1.3h-1.3zM1246.7 1563.1h1.3v1.3h-1.3zM1251.0 1555.9h1.3v1.3h-1.3zM1250.6 1528.4h1.3v1.3h-1.3zM1249.7 1535.1h1.3v1.3h-1.3zM1268.2 1561.7h1.3v1.3h-1.3zM1250.9 1568.2h1.3v1.3h-1.3zM1145.6 1538.1h1.3v1.3h-1.3zM1160.1 1535.3h1.3v1.3h-1.3zM1134.0 1541.3h1.3v1.3h-1.3zM1083.5 1520.9h1.3v1.3h-1.3zM1149.8 1537.4h1.3v1.3h-1.3zM1072.5 1524.3h1.3v1.3h-1.3zM1026.9 1524.9h1.3v1.3h-1.3zM1082.9 1524.6h1.3v1.3h-1.3zM1079.5 1522.0h1.3v1.3h-1.3zM1086.9 1527.1h1.3v1.3h-1.3zM1012.6 1533.0h1.3v1.3h-1.3zM1083.1 1529.6h1.3v1.3h-1.3zM1089.9 1525.1h1.3v1.3h-1.3zM1050.6 1545.1h1.3v1.3h-1.3zM1078.1 1528.0h1.3v1.3h-1.3zM1079.1 1522.0h1.3v1.3h-1.3zM1133.3 1541.3h1.3v1.3h-1.3zM1132.4 1538.9h1.3v1.3h-1.3zM1011.5 1520.8h1.3v1.3h-1.3zM1055.7 1541.3h1.3v1.3h-1.3zM1088.3 1531.3h1.3v1.3h-1.3zM1089.6 1523.9h1.3v1.3h-1.3zM1143.6 1530.9h1.3v1.3h-1.3zM1000.9 1519.8h1.3v1.3h-1.3zM1130.1 1538.1h1.3v1.3h-1.3zM1126.3 1535.3h1.3v1.3h-1.3zM1008.0 1536.8h1.3v1.3h-1.3zM1149.6 1532.9h1.3v1.3h-1.3zM1034.1 1543.9h1.3v1.3h-1.3zM1127.8 1538.2h1.3v1.3h-1.3zM1052.0 1545.8h1.3v1.3h-1.3zM1041.6 1544.9h1.3v1.3h-1.3zM1070.5 1524.6h1.3v1.3h-1.3zM1146.3 1535.5h1.3v1.3h-1.3zM1057.8 1530.9h1.3v1.3h-1.3zM1024.1 1527.8h1.3v1.3h-1.3zM1009.6 1520.8h1.3v1.3h-1.3zM1106.5 1530.2h1.3v1.3h-1.3zM991.6 1529.7h1.3v1.3h-1.3zM1108.2 1535.0h1.3v1.3h-1.3zM1218.5 1367.1h1.3v1.3h-1.3zM1153.5 1383.3h1.3v1.3h-1.3zM1158.0 1386.3h1.3v1.3h-1.3zM1216.3 1368.8h1.3v1.3h-1.3zM1127.4 1369.6h1.3v1.3h-1.3zM1131.0 1366.3h1.3v1.3h-1.3zM1142.3 1373.1h1.3v1.3h-1.3zM1124.7 1365.7h1.3v1.3h-1.3zM1138.6 1382.2h1.3v1.3h-1.3zM1125.0 1369.4h1.3v1.3h-1.3z" fill="#1a1aff"/></g><path d="M984.3 1291.0v6.0M984.3 1592.0v-6.0M1001.8 1291.0v3.5M1001.8 1592.0v-3.5M1019.3 1291.0v3.5M1019.3 1592.0v-3.5M1036.8 1291.0v3.5M1036.8 1592.0v-3.5M1054.3 1291.0v3.5M1054.3 1592.0v-3.5M1071.8 1291.0v3.5M1071.8 1592.0v-3.5M1089.3 1291.0v3.5M1089.3 1592.0v-3.5M1106.8 1291.0v6.0M1106.8 1592.0v-6.0M1124.3 1291.0v3.5M1124.3 1592.0v-3.5M1141.8 1291.0v3.5M1141.8 1592.0v-3.5M1159.3 1291.0v3.5M1159.3 1592.0v-3.5M1176.8 1291.0v3.5M1176.8 1592.0v-3.5M1194.3 1291.0v3.5M1194.3 1592.0v-3.5M1211.8 1291.0v3.5M1211.8 1592.0v-3.5M1229.3 1291.0v6.0M1229.3 1592.0v-6.0M1246.8 1291.0v3.5M1246.8 1592.0v-3.5M1264.3 1291.0v3.5M1264.3 1592.0v-3.5M1281.8 1291.0v3.5M1281.8 1592.0v-3.5M1299.3 1291.0v3.5M1299.3 1592.0v-3.5M1316.8 1291.0v3.5M1316.8 1592.0v-3.5M1334.3 1291.0v3.5M1334.3 1592.0v-3.5M1351.8 1291.0v6.0M1351.8 1592.0v-6.0M1369.3 1291.0v3.5M1369.3 1592.0v-3.5M1386.8 1291.0v3.5M1386.8 1592.0v-3.5M1404.3 1291.0v3.5M1404.3 1592.0v-3.5M984.3 1577.0h3.5M1412.4 1577.0h-3.5M984.3 1561.9h6.0M1412.4 1561.9h-6.0M984.3 1546.8h3.5M1412.4 1546.8h-3.5M984.3 1531.8h3.5M1412.4 1531.8h-3.5M984.3 1516.8h3.5M1412.4 1516.8h-3.5M984.3 1501.7h6.0M1412.4 1501.7h-6.0M984.3 1486.7h3.5M1412.4 1486.7h-3.5M984.3 1471.6h3.5M1412.4 1471.6h-3.5M984.3 1456.5h3.5M1412.4 1456.5h-3.5M984.3 1441.5h6.0M1412.4 1441.5h-6.0M984.3 1426.5h3.5M1412.4 1426.5h-3.5M984.3 1411.4h3.5M1412.4 1411.4h-3.5M984.3 1396.3h3.5M1412.4 1396.3h-3.5M984.3 1381.3h6.0M1412.4 1381.3h-6.0M984.3 1366.2h3.5M1412.4 1366.2h-3.5M984.3 1351.2h3.5M1412.4 1351.2h-3.5M984.3 1336.2h3.5M1412.4 1336.2h-3.5M984.3 1321.1h6.0M1412.4 1321.1h-6.0M984.3 1306.0h3.5M1412.4 1306.0h-3.5" stroke="#111" stroke-width="1.1" fill="none"/><rect x="984.3" y="1291.0" width="428.1" height="301.0" fill="none" stroke="#0a0a0a" stroke-width="2.2"/><text x="984.3" y="1617.5" text-anchor="middle" style="font-family:'Liberation Sans',sans-serif;font-size:24px">0</text><text x="1106.8" y="1617.5" text-anchor="middle" style="font-family:'Liberation Sans',sans-serif;font-size:24px">700</text><text x="1229.3" y="1617.5" text-anchor="middle" style="font-family:'Liberation Sans',sans-serif;font-size:24px">1400</text><text x="1351.8" y="1617.5" text-anchor="middle" style="font-family:'Liberation Sans',sans-serif;font-size:24px">2100</text><text x="1198.5" y="1643.8" text-anchor="middle" style="font-family:'Liberation Sans',sans-serif;font-size:25px;letter-spacing:0.4px">Elevation (m)</text><text x="1407.1" y="1314.4" text-anchor="end" style="font-family:'Liberation Sans',sans-serif;font-size:24px">D−LOS residual</text></svg></body></html>
